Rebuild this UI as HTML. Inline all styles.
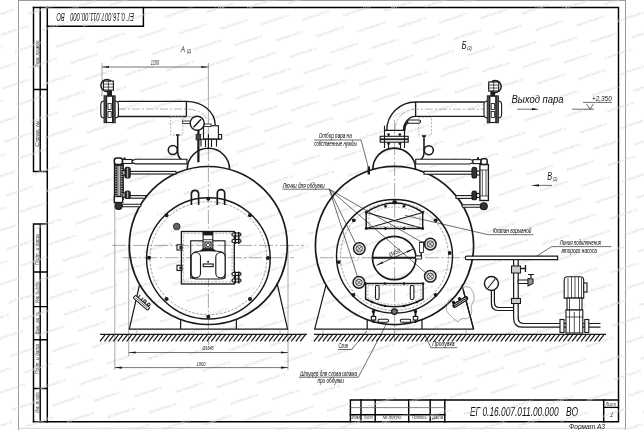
<!DOCTYPE html>
<html><head><meta charset="utf-8">
<style>
html,body{margin:0;padding:0;background:#fff;width:644px;height:430px;overflow:hidden}
svg{display:block;filter:blur(0.35px)}
text{font-family:"Liberation Sans",sans-serif;font-style:italic}
</style></head><body>
<svg width="644" height="430" viewBox="0 0 644 430" fill="#111">
<rect width="644" height="430" fill="#fff"/>

<!-- ===== FRAME ===== -->
<g fill="none" stroke="#9a9a9a" stroke-width="1">
<path d="M18.5,0V430M625.5,0V430M18.5,0.5H625.5"/><path d="M18.5,428.3H625.5" stroke="#c8c8c8" stroke-width="0.8"/>
</g>
<g fill="none" stroke="#000" stroke-width="1.45" stroke-linecap="square">
<path d="M33.5,7.5H618.5V421.7H33.5"/>
<path d="M47.3,7.5V421.7"/>
<path d="M33.5,7.5V171.5H47.3M40.2,7.5V171.5M33.5,89.5H47.3"/>
<path d="M33.5,224H47.3M33.5,224V421.7M40.2,224V421.7M33.5,272H47.3M33.5,306.6H47.3M33.5,339.8H47.3M33.5,388.5H47.3"/>
<path d="M47.3,26.3H143.4V7.5"/>
<!-- title block -->
<path d="M350.4,421.7V400H618.5"/>
<path d="M361,400V421.7M375.2,400V421.7M408.7,400V421.7M430.2,400V421.7M444.8,400V421.7M603.7,400V421.7"/>
<path d="M350.4,414.8H444.8"/>
</g>
<g fill="none" stroke="#666" stroke-width="0.8">
<path d="M350.4,407.6H444.8"/></g><g fill="none" stroke="#000" stroke-width="1.3"><path d="M603.7,407.4H618.5"/>
</g>
<!-- strip texts -->
<g font-size="4.6" fill="#333">
<text transform="translate(39.3,67.4) rotate(-90)" textLength="27.9" lengthAdjust="spacingAndGlyphs">Перв. примен.</text>
<text transform="translate(39.3,146.7) rotate(-90)" textLength="26" lengthAdjust="spacingAndGlyphs">Справ. №</text>
<text transform="translate(39.3,265) rotate(-90)" textLength="30.7" lengthAdjust="spacingAndGlyphs">Подп. и дата</text>
<text transform="translate(39.3,302.8) rotate(-90)" textLength="21.8" lengthAdjust="spacingAndGlyphs">Инв. № дубл.</text>
<text transform="translate(39.3,334) rotate(-90)" textLength="22" lengthAdjust="spacingAndGlyphs">Взам. инв. №</text>
<text transform="translate(39.3,374) rotate(-90)" textLength="30" lengthAdjust="spacingAndGlyphs">Подп. и дата</text>
<text transform="translate(39.3,412.5) rotate(-90)" textLength="21" lengthAdjust="spacingAndGlyphs">Инв. № подл.</text>
</g>
<text transform="translate(134,13) rotate(180) scale(0.593,1)" font-size="10.2">ЕГ 0.16.007.011.00.000</text><text transform="translate(64.7,13) rotate(180) scale(0.57,1)" font-size="10.2">ВО</text>
<g font-size="5" fill="#222">
<text x="351.5" y="419" textLength="8.2" lengthAdjust="spacingAndGlyphs">Изм</text>
<text x="363.8" y="419" textLength="8.9" lengthAdjust="spacingAndGlyphs">Лист</text>
<text x="382.5" y="419" textLength="19.5" lengthAdjust="spacingAndGlyphs">№ докум.</text>
<text x="411.9" y="419" textLength="14.7" lengthAdjust="spacingAndGlyphs">Подпись</text>
<text x="432.3" y="419" textLength="10.6" lengthAdjust="spacingAndGlyphs">Дата</text>
<text x="605.5" y="405.8" font-size="5" textLength="10.5" lengthAdjust="spacingAndGlyphs">Лист</text>
<text transform="translate(609.5,417.2) skewX(-12)" font-size="6.5" font-style="normal">1</text>
</g>
<text transform="translate(470,415.8) scale(0.62,1)" font-size="13.5">ЕГ 0.16.007.011.00.000</text><text transform="translate(566,415.8) scale(0.63,1)" font-size="13.5">ВО</text>
<text x="569" y="429" font-size="7.5" textLength="36" lengthAdjust="spacingAndGlyphs">Формат  А3</text>

<!-- DRAWING -->
<!--DRAWSTART-->
<g font-size="4" fill="#d6d6d6" font-style="normal"><text transform="translate(-29.0,415.5) rotate(-18.6)" textLength="29" lengthAdjust="spacingAndGlyphs">bashkirkotel.ru</text><text transform="translate(-14.8,431.9) rotate(-18.6)" textLength="29" lengthAdjust="spacingAndGlyphs">bashkirkotel.ru</text><text transform="translate(-16.3,378.3) rotate(-18.6)" textLength="29" lengthAdjust="spacingAndGlyphs">bashkirkotel.ru</text><text transform="translate(-2.2,394.6) rotate(-18.6)" textLength="29" lengthAdjust="spacingAndGlyphs">bashkirkotel.ru</text><text transform="translate(12.0,411.0) rotate(-18.6)" textLength="29" lengthAdjust="spacingAndGlyphs">bashkirkotel.ru</text><text transform="translate(26.2,427.4) rotate(-18.6)" textLength="29" lengthAdjust="spacingAndGlyphs">bashkirkotel.ru</text><text transform="translate(-17.8,324.8) rotate(-18.6)" textLength="29" lengthAdjust="spacingAndGlyphs">bashkirkotel.ru</text><text transform="translate(-3.7,341.1) rotate(-18.6)" textLength="29" lengthAdjust="spacingAndGlyphs">bashkirkotel.ru</text><text transform="translate(10.5,357.4) rotate(-18.6)" textLength="29" lengthAdjust="spacingAndGlyphs">bashkirkotel.ru</text><text transform="translate(24.7,373.8) rotate(-18.6)" textLength="29" lengthAdjust="spacingAndGlyphs">bashkirkotel.ru</text><text transform="translate(38.8,390.1) rotate(-18.6)" textLength="29" lengthAdjust="spacingAndGlyphs">bashkirkotel.ru</text><text transform="translate(53.0,406.5) rotate(-18.6)" textLength="29" lengthAdjust="spacingAndGlyphs">bashkirkotel.ru</text><text transform="translate(67.2,422.9) rotate(-18.6)" textLength="29" lengthAdjust="spacingAndGlyphs">bashkirkotel.ru</text><text transform="translate(81.3,439.2) rotate(-18.6)" textLength="29" lengthAdjust="spacingAndGlyphs">bashkirkotel.ru</text><text transform="translate(-19.4,271.2) rotate(-18.6)" textLength="29" lengthAdjust="spacingAndGlyphs">bashkirkotel.ru</text><text transform="translate(-5.2,287.5) rotate(-18.6)" textLength="29" lengthAdjust="spacingAndGlyphs">bashkirkotel.ru</text><text transform="translate(9.0,303.9) rotate(-18.6)" textLength="29" lengthAdjust="spacingAndGlyphs">bashkirkotel.ru</text><text transform="translate(23.2,320.2) rotate(-18.6)" textLength="29" lengthAdjust="spacingAndGlyphs">bashkirkotel.ru</text><text transform="translate(37.3,336.6) rotate(-18.6)" textLength="29" lengthAdjust="spacingAndGlyphs">bashkirkotel.ru</text><text transform="translate(51.5,352.9) rotate(-18.6)" textLength="29" lengthAdjust="spacingAndGlyphs">bashkirkotel.ru</text><text transform="translate(65.7,369.3) rotate(-18.6)" textLength="29" lengthAdjust="spacingAndGlyphs">bashkirkotel.ru</text><text transform="translate(79.8,385.6) rotate(-18.6)" textLength="29" lengthAdjust="spacingAndGlyphs">bashkirkotel.ru</text><text transform="translate(94.0,402.0) rotate(-18.6)" textLength="29" lengthAdjust="spacingAndGlyphs">bashkirkotel.ru</text><text transform="translate(108.2,418.4) rotate(-18.6)" textLength="29" lengthAdjust="spacingAndGlyphs">bashkirkotel.ru</text><text transform="translate(122.3,434.7) rotate(-18.6)" textLength="29" lengthAdjust="spacingAndGlyphs">bashkirkotel.ru</text><text transform="translate(-20.9,217.6) rotate(-18.6)" textLength="29" lengthAdjust="spacingAndGlyphs">bashkirkotel.ru</text><text transform="translate(-6.7,234.0) rotate(-18.6)" textLength="29" lengthAdjust="spacingAndGlyphs">bashkirkotel.ru</text><text transform="translate(7.5,250.3) rotate(-18.6)" textLength="29" lengthAdjust="spacingAndGlyphs">bashkirkotel.ru</text><text transform="translate(21.6,266.7) rotate(-18.6)" textLength="29" lengthAdjust="spacingAndGlyphs">bashkirkotel.ru</text><text transform="translate(35.8,283.0) rotate(-18.6)" textLength="29" lengthAdjust="spacingAndGlyphs">bashkirkotel.ru</text><text transform="translate(50.0,299.4) rotate(-18.6)" textLength="29" lengthAdjust="spacingAndGlyphs">bashkirkotel.ru</text><text transform="translate(64.2,315.8) rotate(-18.6)" textLength="29" lengthAdjust="spacingAndGlyphs">bashkirkotel.ru</text><text transform="translate(78.3,332.1) rotate(-18.6)" textLength="29" lengthAdjust="spacingAndGlyphs">bashkirkotel.ru</text><text transform="translate(92.5,348.4) rotate(-18.6)" textLength="29" lengthAdjust="spacingAndGlyphs">bashkirkotel.ru</text><text transform="translate(106.7,364.8) rotate(-18.6)" textLength="29" lengthAdjust="spacingAndGlyphs">bashkirkotel.ru</text><text transform="translate(120.8,381.1) rotate(-18.6)" textLength="29" lengthAdjust="spacingAndGlyphs">bashkirkotel.ru</text><text transform="translate(135.0,397.5) rotate(-18.6)" textLength="29" lengthAdjust="spacingAndGlyphs">bashkirkotel.ru</text><text transform="translate(149.2,413.9) rotate(-18.6)" textLength="29" lengthAdjust="spacingAndGlyphs">bashkirkotel.ru</text><text transform="translate(163.3,430.2) rotate(-18.6)" textLength="29" lengthAdjust="spacingAndGlyphs">bashkirkotel.ru</text><text transform="translate(-22.4,164.1) rotate(-18.6)" textLength="29" lengthAdjust="spacingAndGlyphs">bashkirkotel.ru</text><text transform="translate(-8.2,180.4) rotate(-18.6)" textLength="29" lengthAdjust="spacingAndGlyphs">bashkirkotel.ru</text><text transform="translate(6.0,196.8) rotate(-18.6)" textLength="29" lengthAdjust="spacingAndGlyphs">bashkirkotel.ru</text><text transform="translate(20.1,213.1) rotate(-18.6)" textLength="29" lengthAdjust="spacingAndGlyphs">bashkirkotel.ru</text><text transform="translate(34.3,229.5) rotate(-18.6)" textLength="29" lengthAdjust="spacingAndGlyphs">bashkirkotel.ru</text><text transform="translate(48.5,245.8) rotate(-18.6)" textLength="29" lengthAdjust="spacingAndGlyphs">bashkirkotel.ru</text><text transform="translate(62.6,262.2) rotate(-18.6)" textLength="29" lengthAdjust="spacingAndGlyphs">bashkirkotel.ru</text><text transform="translate(76.8,278.5) rotate(-18.6)" textLength="29" lengthAdjust="spacingAndGlyphs">bashkirkotel.ru</text><text transform="translate(91.0,294.9) rotate(-18.6)" textLength="29" lengthAdjust="spacingAndGlyphs">bashkirkotel.ru</text><text transform="translate(105.2,311.2) rotate(-18.6)" textLength="29" lengthAdjust="spacingAndGlyphs">bashkirkotel.ru</text><text transform="translate(119.3,327.6) rotate(-18.6)" textLength="29" lengthAdjust="spacingAndGlyphs">bashkirkotel.ru</text><text transform="translate(133.5,343.9) rotate(-18.6)" textLength="29" lengthAdjust="spacingAndGlyphs">bashkirkotel.ru</text><text transform="translate(147.7,360.3) rotate(-18.6)" textLength="29" lengthAdjust="spacingAndGlyphs">bashkirkotel.ru</text><text transform="translate(161.8,376.6) rotate(-18.6)" textLength="29" lengthAdjust="spacingAndGlyphs">bashkirkotel.ru</text><text transform="translate(176.0,393.0) rotate(-18.6)" textLength="29" lengthAdjust="spacingAndGlyphs">bashkirkotel.ru</text><text transform="translate(190.2,409.4) rotate(-18.6)" textLength="29" lengthAdjust="spacingAndGlyphs">bashkirkotel.ru</text><text transform="translate(204.3,425.7) rotate(-18.6)" textLength="29" lengthAdjust="spacingAndGlyphs">bashkirkotel.ru</text><text transform="translate(-23.9,110.5) rotate(-18.6)" textLength="29" lengthAdjust="spacingAndGlyphs">bashkirkotel.ru</text><text transform="translate(-9.7,126.9) rotate(-18.6)" textLength="29" lengthAdjust="spacingAndGlyphs">bashkirkotel.ru</text><text transform="translate(4.4,143.2) rotate(-18.6)" textLength="29" lengthAdjust="spacingAndGlyphs">bashkirkotel.ru</text><text transform="translate(18.6,159.6) rotate(-18.6)" textLength="29" lengthAdjust="spacingAndGlyphs">bashkirkotel.ru</text><text transform="translate(32.8,175.9) rotate(-18.6)" textLength="29" lengthAdjust="spacingAndGlyphs">bashkirkotel.ru</text><text transform="translate(47.0,192.3) rotate(-18.6)" textLength="29" lengthAdjust="spacingAndGlyphs">bashkirkotel.ru</text><text transform="translate(61.1,208.6) rotate(-18.6)" textLength="29" lengthAdjust="spacingAndGlyphs">bashkirkotel.ru</text><text transform="translate(75.3,225.0) rotate(-18.6)" textLength="29" lengthAdjust="spacingAndGlyphs">bashkirkotel.ru</text><text transform="translate(89.5,241.3) rotate(-18.6)" textLength="29" lengthAdjust="spacingAndGlyphs">bashkirkotel.ru</text><text transform="translate(103.6,257.7) rotate(-18.6)" textLength="29" lengthAdjust="spacingAndGlyphs">bashkirkotel.ru</text><text transform="translate(117.8,274.0) rotate(-18.6)" textLength="29" lengthAdjust="spacingAndGlyphs">bashkirkotel.ru</text><text transform="translate(132.0,290.4) rotate(-18.6)" textLength="29" lengthAdjust="spacingAndGlyphs">bashkirkotel.ru</text><text transform="translate(146.2,306.8) rotate(-18.6)" textLength="29" lengthAdjust="spacingAndGlyphs">bashkirkotel.ru</text><text transform="translate(160.3,323.1) rotate(-18.6)" textLength="29" lengthAdjust="spacingAndGlyphs">bashkirkotel.ru</text><text transform="translate(174.5,339.4) rotate(-18.6)" textLength="29" lengthAdjust="spacingAndGlyphs">bashkirkotel.ru</text><text transform="translate(188.7,355.8) rotate(-18.6)" textLength="29" lengthAdjust="spacingAndGlyphs">bashkirkotel.ru</text><text transform="translate(202.8,372.1) rotate(-18.6)" textLength="29" lengthAdjust="spacingAndGlyphs">bashkirkotel.ru</text><text transform="translate(217.0,388.5) rotate(-18.6)" textLength="29" lengthAdjust="spacingAndGlyphs">bashkirkotel.ru</text><text transform="translate(231.2,404.9) rotate(-18.6)" textLength="29" lengthAdjust="spacingAndGlyphs">bashkirkotel.ru</text><text transform="translate(245.3,421.2) rotate(-18.6)" textLength="29" lengthAdjust="spacingAndGlyphs">bashkirkotel.ru</text><text transform="translate(259.5,437.6) rotate(-18.6)" textLength="29" lengthAdjust="spacingAndGlyphs">bashkirkotel.ru</text><text transform="translate(-25.4,57.0) rotate(-18.6)" textLength="29" lengthAdjust="spacingAndGlyphs">bashkirkotel.ru</text><text transform="translate(-11.2,73.3) rotate(-18.6)" textLength="29" lengthAdjust="spacingAndGlyphs">bashkirkotel.ru</text><text transform="translate(2.9,89.7) rotate(-18.6)" textLength="29" lengthAdjust="spacingAndGlyphs">bashkirkotel.ru</text><text transform="translate(17.1,106.0) rotate(-18.6)" textLength="29" lengthAdjust="spacingAndGlyphs">bashkirkotel.ru</text><text transform="translate(31.3,122.4) rotate(-18.6)" textLength="29" lengthAdjust="spacingAndGlyphs">bashkirkotel.ru</text><text transform="translate(45.4,138.7) rotate(-18.6)" textLength="29" lengthAdjust="spacingAndGlyphs">bashkirkotel.ru</text><text transform="translate(59.6,155.1) rotate(-18.6)" textLength="29" lengthAdjust="spacingAndGlyphs">bashkirkotel.ru</text><text transform="translate(73.8,171.4) rotate(-18.6)" textLength="29" lengthAdjust="spacingAndGlyphs">bashkirkotel.ru</text><text transform="translate(88.0,187.8) rotate(-18.6)" textLength="29" lengthAdjust="spacingAndGlyphs">bashkirkotel.ru</text><text transform="translate(102.1,204.1) rotate(-18.6)" textLength="29" lengthAdjust="spacingAndGlyphs">bashkirkotel.ru</text><text transform="translate(116.3,220.5) rotate(-18.6)" textLength="29" lengthAdjust="spacingAndGlyphs">bashkirkotel.ru</text><text transform="translate(130.5,236.8) rotate(-18.6)" textLength="29" lengthAdjust="spacingAndGlyphs">bashkirkotel.ru</text><text transform="translate(144.6,253.2) rotate(-18.6)" textLength="29" lengthAdjust="spacingAndGlyphs">bashkirkotel.ru</text><text transform="translate(158.8,269.5) rotate(-18.6)" textLength="29" lengthAdjust="spacingAndGlyphs">bashkirkotel.ru</text><text transform="translate(173.0,285.9) rotate(-18.6)" textLength="29" lengthAdjust="spacingAndGlyphs">bashkirkotel.ru</text><text transform="translate(187.2,302.2) rotate(-18.6)" textLength="29" lengthAdjust="spacingAndGlyphs">bashkirkotel.ru</text><text transform="translate(201.3,318.6) rotate(-18.6)" textLength="29" lengthAdjust="spacingAndGlyphs">bashkirkotel.ru</text><text transform="translate(215.5,334.9) rotate(-18.6)" textLength="29" lengthAdjust="spacingAndGlyphs">bashkirkotel.ru</text><text transform="translate(229.7,351.3) rotate(-18.6)" textLength="29" lengthAdjust="spacingAndGlyphs">bashkirkotel.ru</text><text transform="translate(243.8,367.6) rotate(-18.6)" textLength="29" lengthAdjust="spacingAndGlyphs">bashkirkotel.ru</text><text transform="translate(258.0,384.0) rotate(-18.6)" textLength="29" lengthAdjust="spacingAndGlyphs">bashkirkotel.ru</text><text transform="translate(272.2,400.4) rotate(-18.6)" textLength="29" lengthAdjust="spacingAndGlyphs">bashkirkotel.ru</text><text transform="translate(286.3,416.7) rotate(-18.6)" textLength="29" lengthAdjust="spacingAndGlyphs">bashkirkotel.ru</text><text transform="translate(300.5,433.1) rotate(-18.6)" textLength="29" lengthAdjust="spacingAndGlyphs">bashkirkotel.ru</text><text transform="translate(-26.9,3.4) rotate(-18.6)" textLength="29" lengthAdjust="spacingAndGlyphs">bashkirkotel.ru</text><text transform="translate(-12.7,19.8) rotate(-18.6)" textLength="29" lengthAdjust="spacingAndGlyphs">bashkirkotel.ru</text><text transform="translate(1.4,36.1) rotate(-18.6)" textLength="29" lengthAdjust="spacingAndGlyphs">bashkirkotel.ru</text><text transform="translate(15.6,52.5) rotate(-18.6)" textLength="29" lengthAdjust="spacingAndGlyphs">bashkirkotel.ru</text><text transform="translate(29.8,68.8) rotate(-18.6)" textLength="29" lengthAdjust="spacingAndGlyphs">bashkirkotel.ru</text><text transform="translate(43.9,85.2) rotate(-18.6)" textLength="29" lengthAdjust="spacingAndGlyphs">bashkirkotel.ru</text><text transform="translate(58.1,101.5) rotate(-18.6)" textLength="29" lengthAdjust="spacingAndGlyphs">bashkirkotel.ru</text><text transform="translate(72.3,117.9) rotate(-18.6)" textLength="29" lengthAdjust="spacingAndGlyphs">bashkirkotel.ru</text><text transform="translate(86.4,134.2) rotate(-18.6)" textLength="29" lengthAdjust="spacingAndGlyphs">bashkirkotel.ru</text><text transform="translate(100.6,150.6) rotate(-18.6)" textLength="29" lengthAdjust="spacingAndGlyphs">bashkirkotel.ru</text><text transform="translate(114.8,166.9) rotate(-18.6)" textLength="29" lengthAdjust="spacingAndGlyphs">bashkirkotel.ru</text><text transform="translate(129.0,183.3) rotate(-18.6)" textLength="29" lengthAdjust="spacingAndGlyphs">bashkirkotel.ru</text><text transform="translate(143.1,199.6) rotate(-18.6)" textLength="29" lengthAdjust="spacingAndGlyphs">bashkirkotel.ru</text><text transform="translate(157.3,216.0) rotate(-18.6)" textLength="29" lengthAdjust="spacingAndGlyphs">bashkirkotel.ru</text><text transform="translate(171.5,232.3) rotate(-18.6)" textLength="29" lengthAdjust="spacingAndGlyphs">bashkirkotel.ru</text><text transform="translate(185.6,248.7) rotate(-18.6)" textLength="29" lengthAdjust="spacingAndGlyphs">bashkirkotel.ru</text><text transform="translate(199.8,265.0) rotate(-18.6)" textLength="29" lengthAdjust="spacingAndGlyphs">bashkirkotel.ru</text><text transform="translate(214.0,281.4) rotate(-18.6)" textLength="29" lengthAdjust="spacingAndGlyphs">bashkirkotel.ru</text><text transform="translate(228.2,297.8) rotate(-18.6)" textLength="29" lengthAdjust="spacingAndGlyphs">bashkirkotel.ru</text><text transform="translate(242.3,314.1) rotate(-18.6)" textLength="29" lengthAdjust="spacingAndGlyphs">bashkirkotel.ru</text><text transform="translate(256.5,330.4) rotate(-18.6)" textLength="29" lengthAdjust="spacingAndGlyphs">bashkirkotel.ru</text><text transform="translate(270.7,346.8) rotate(-18.6)" textLength="29" lengthAdjust="spacingAndGlyphs">bashkirkotel.ru</text><text transform="translate(284.8,363.1) rotate(-18.6)" textLength="29" lengthAdjust="spacingAndGlyphs">bashkirkotel.ru</text><text transform="translate(299.0,379.5) rotate(-18.6)" textLength="29" lengthAdjust="spacingAndGlyphs">bashkirkotel.ru</text><text transform="translate(313.2,395.9) rotate(-18.6)" textLength="29" lengthAdjust="spacingAndGlyphs">bashkirkotel.ru</text><text transform="translate(327.3,412.2) rotate(-18.6)" textLength="29" lengthAdjust="spacingAndGlyphs">bashkirkotel.ru</text><text transform="translate(341.5,428.6) rotate(-18.6)" textLength="29" lengthAdjust="spacingAndGlyphs">bashkirkotel.ru</text><text transform="translate(14.1,-1.1) rotate(-18.6)" textLength="29" lengthAdjust="spacingAndGlyphs">bashkirkotel.ru</text><text transform="translate(28.3,15.3) rotate(-18.6)" textLength="29" lengthAdjust="spacingAndGlyphs">bashkirkotel.ru</text><text transform="translate(42.4,31.6) rotate(-18.6)" textLength="29" lengthAdjust="spacingAndGlyphs">bashkirkotel.ru</text><text transform="translate(56.6,48.0) rotate(-18.6)" textLength="29" lengthAdjust="spacingAndGlyphs">bashkirkotel.ru</text><text transform="translate(70.8,64.3) rotate(-18.6)" textLength="29" lengthAdjust="spacingAndGlyphs">bashkirkotel.ru</text><text transform="translate(84.9,80.7) rotate(-18.6)" textLength="29" lengthAdjust="spacingAndGlyphs">bashkirkotel.ru</text><text transform="translate(99.1,97.0) rotate(-18.6)" textLength="29" lengthAdjust="spacingAndGlyphs">bashkirkotel.ru</text><text transform="translate(113.3,113.4) rotate(-18.6)" textLength="29" lengthAdjust="spacingAndGlyphs">bashkirkotel.ru</text><text transform="translate(127.4,129.7) rotate(-18.6)" textLength="29" lengthAdjust="spacingAndGlyphs">bashkirkotel.ru</text><text transform="translate(141.6,146.1) rotate(-18.6)" textLength="29" lengthAdjust="spacingAndGlyphs">bashkirkotel.ru</text><text transform="translate(155.8,162.4) rotate(-18.6)" textLength="29" lengthAdjust="spacingAndGlyphs">bashkirkotel.ru</text><text transform="translate(170.0,178.8) rotate(-18.6)" textLength="29" lengthAdjust="spacingAndGlyphs">bashkirkotel.ru</text><text transform="translate(184.1,195.1) rotate(-18.6)" textLength="29" lengthAdjust="spacingAndGlyphs">bashkirkotel.ru</text><text transform="translate(198.3,211.5) rotate(-18.6)" textLength="29" lengthAdjust="spacingAndGlyphs">bashkirkotel.ru</text><text transform="translate(212.5,227.8) rotate(-18.6)" textLength="29" lengthAdjust="spacingAndGlyphs">bashkirkotel.ru</text><text transform="translate(226.6,244.2) rotate(-18.6)" textLength="29" lengthAdjust="spacingAndGlyphs">bashkirkotel.ru</text><text transform="translate(240.8,260.5) rotate(-18.6)" textLength="29" lengthAdjust="spacingAndGlyphs">bashkirkotel.ru</text><text transform="translate(255.0,276.9) rotate(-18.6)" textLength="29" lengthAdjust="spacingAndGlyphs">bashkirkotel.ru</text><text transform="translate(269.1,293.2) rotate(-18.6)" textLength="29" lengthAdjust="spacingAndGlyphs">bashkirkotel.ru</text><text transform="translate(283.3,309.6) rotate(-18.6)" textLength="29" lengthAdjust="spacingAndGlyphs">bashkirkotel.ru</text><text transform="translate(297.5,325.9) rotate(-18.6)" textLength="29" lengthAdjust="spacingAndGlyphs">bashkirkotel.ru</text><text transform="translate(311.7,342.3) rotate(-18.6)" textLength="29" lengthAdjust="spacingAndGlyphs">bashkirkotel.ru</text><text transform="translate(325.8,358.6) rotate(-18.6)" textLength="29" lengthAdjust="spacingAndGlyphs">bashkirkotel.ru</text><text transform="translate(340.0,375.0) rotate(-18.6)" textLength="29" lengthAdjust="spacingAndGlyphs">bashkirkotel.ru</text><text transform="translate(354.2,391.4) rotate(-18.6)" textLength="29" lengthAdjust="spacingAndGlyphs">bashkirkotel.ru</text><text transform="translate(368.3,407.7) rotate(-18.6)" textLength="29" lengthAdjust="spacingAndGlyphs">bashkirkotel.ru</text><text transform="translate(382.5,424.1) rotate(-18.6)" textLength="29" lengthAdjust="spacingAndGlyphs">bashkirkotel.ru</text><text transform="translate(69.3,10.8) rotate(-18.6)" textLength="29" lengthAdjust="spacingAndGlyphs">bashkirkotel.ru</text><text transform="translate(83.4,27.1) rotate(-18.6)" textLength="29" lengthAdjust="spacingAndGlyphs">bashkirkotel.ru</text><text transform="translate(97.6,43.5) rotate(-18.6)" textLength="29" lengthAdjust="spacingAndGlyphs">bashkirkotel.ru</text><text transform="translate(111.8,59.8) rotate(-18.6)" textLength="29" lengthAdjust="spacingAndGlyphs">bashkirkotel.ru</text><text transform="translate(125.9,76.2) rotate(-18.6)" textLength="29" lengthAdjust="spacingAndGlyphs">bashkirkotel.ru</text><text transform="translate(140.1,92.5) rotate(-18.6)" textLength="29" lengthAdjust="spacingAndGlyphs">bashkirkotel.ru</text><text transform="translate(154.3,108.9) rotate(-18.6)" textLength="29" lengthAdjust="spacingAndGlyphs">bashkirkotel.ru</text><text transform="translate(168.4,125.2) rotate(-18.6)" textLength="29" lengthAdjust="spacingAndGlyphs">bashkirkotel.ru</text><text transform="translate(182.6,141.6) rotate(-18.6)" textLength="29" lengthAdjust="spacingAndGlyphs">bashkirkotel.ru</text><text transform="translate(196.8,157.9) rotate(-18.6)" textLength="29" lengthAdjust="spacingAndGlyphs">bashkirkotel.ru</text><text transform="translate(211.0,174.3) rotate(-18.6)" textLength="29" lengthAdjust="spacingAndGlyphs">bashkirkotel.ru</text><text transform="translate(225.1,190.6) rotate(-18.6)" textLength="29" lengthAdjust="spacingAndGlyphs">bashkirkotel.ru</text><text transform="translate(239.3,207.0) rotate(-18.6)" textLength="29" lengthAdjust="spacingAndGlyphs">bashkirkotel.ru</text><text transform="translate(253.5,223.3) rotate(-18.6)" textLength="29" lengthAdjust="spacingAndGlyphs">bashkirkotel.ru</text><text transform="translate(267.6,239.7) rotate(-18.6)" textLength="29" lengthAdjust="spacingAndGlyphs">bashkirkotel.ru</text><text transform="translate(281.8,256.0) rotate(-18.6)" textLength="29" lengthAdjust="spacingAndGlyphs">bashkirkotel.ru</text><text transform="translate(296.0,272.4) rotate(-18.6)" textLength="29" lengthAdjust="spacingAndGlyphs">bashkirkotel.ru</text><text transform="translate(310.1,288.8) rotate(-18.6)" textLength="29" lengthAdjust="spacingAndGlyphs">bashkirkotel.ru</text><text transform="translate(324.3,305.1) rotate(-18.6)" textLength="29" lengthAdjust="spacingAndGlyphs">bashkirkotel.ru</text><text transform="translate(338.5,321.4) rotate(-18.6)" textLength="29" lengthAdjust="spacingAndGlyphs">bashkirkotel.ru</text><text transform="translate(352.7,337.8) rotate(-18.6)" textLength="29" lengthAdjust="spacingAndGlyphs">bashkirkotel.ru</text><text transform="translate(366.8,354.1) rotate(-18.6)" textLength="29" lengthAdjust="spacingAndGlyphs">bashkirkotel.ru</text><text transform="translate(381.0,370.5) rotate(-18.6)" textLength="29" lengthAdjust="spacingAndGlyphs">bashkirkotel.ru</text><text transform="translate(395.2,386.9) rotate(-18.6)" textLength="29" lengthAdjust="spacingAndGlyphs">bashkirkotel.ru</text><text transform="translate(409.3,403.2) rotate(-18.6)" textLength="29" lengthAdjust="spacingAndGlyphs">bashkirkotel.ru</text><text transform="translate(423.5,419.6) rotate(-18.6)" textLength="29" lengthAdjust="spacingAndGlyphs">bashkirkotel.ru</text><text transform="translate(437.7,435.9) rotate(-18.6)" textLength="29" lengthAdjust="spacingAndGlyphs">bashkirkotel.ru</text><text transform="translate(110.3,6.3) rotate(-18.6)" textLength="29" lengthAdjust="spacingAndGlyphs">bashkirkotel.ru</text><text transform="translate(124.4,22.6) rotate(-18.6)" textLength="29" lengthAdjust="spacingAndGlyphs">bashkirkotel.ru</text><text transform="translate(138.6,39.0) rotate(-18.6)" textLength="29" lengthAdjust="spacingAndGlyphs">bashkirkotel.ru</text><text transform="translate(152.8,55.3) rotate(-18.6)" textLength="29" lengthAdjust="spacingAndGlyphs">bashkirkotel.ru</text><text transform="translate(166.9,71.7) rotate(-18.6)" textLength="29" lengthAdjust="spacingAndGlyphs">bashkirkotel.ru</text><text transform="translate(181.1,88.0) rotate(-18.6)" textLength="29" lengthAdjust="spacingAndGlyphs">bashkirkotel.ru</text><text transform="translate(195.3,104.4) rotate(-18.6)" textLength="29" lengthAdjust="spacingAndGlyphs">bashkirkotel.ru</text><text transform="translate(209.4,120.7) rotate(-18.6)" textLength="29" lengthAdjust="spacingAndGlyphs">bashkirkotel.ru</text><text transform="translate(223.6,137.1) rotate(-18.6)" textLength="29" lengthAdjust="spacingAndGlyphs">bashkirkotel.ru</text><text transform="translate(237.8,153.4) rotate(-18.6)" textLength="29" lengthAdjust="spacingAndGlyphs">bashkirkotel.ru</text><text transform="translate(252.0,169.8) rotate(-18.6)" textLength="29" lengthAdjust="spacingAndGlyphs">bashkirkotel.ru</text><text transform="translate(266.1,186.1) rotate(-18.6)" textLength="29" lengthAdjust="spacingAndGlyphs">bashkirkotel.ru</text><text transform="translate(280.3,202.5) rotate(-18.6)" textLength="29" lengthAdjust="spacingAndGlyphs">bashkirkotel.ru</text><text transform="translate(294.5,218.8) rotate(-18.6)" textLength="29" lengthAdjust="spacingAndGlyphs">bashkirkotel.ru</text><text transform="translate(308.6,235.2) rotate(-18.6)" textLength="29" lengthAdjust="spacingAndGlyphs">bashkirkotel.ru</text><text transform="translate(322.8,251.5) rotate(-18.6)" textLength="29" lengthAdjust="spacingAndGlyphs">bashkirkotel.ru</text><text transform="translate(337.0,267.9) rotate(-18.6)" textLength="29" lengthAdjust="spacingAndGlyphs">bashkirkotel.ru</text><text transform="translate(351.1,284.2) rotate(-18.6)" textLength="29" lengthAdjust="spacingAndGlyphs">bashkirkotel.ru</text><text transform="translate(365.3,300.6) rotate(-18.6)" textLength="29" lengthAdjust="spacingAndGlyphs">bashkirkotel.ru</text><text transform="translate(379.5,316.9) rotate(-18.6)" textLength="29" lengthAdjust="spacingAndGlyphs">bashkirkotel.ru</text><text transform="translate(393.7,333.3) rotate(-18.6)" textLength="29" lengthAdjust="spacingAndGlyphs">bashkirkotel.ru</text><text transform="translate(407.8,349.6) rotate(-18.6)" textLength="29" lengthAdjust="spacingAndGlyphs">bashkirkotel.ru</text><text transform="translate(422.0,366.0) rotate(-18.6)" textLength="29" lengthAdjust="spacingAndGlyphs">bashkirkotel.ru</text><text transform="translate(436.2,382.4) rotate(-18.6)" textLength="29" lengthAdjust="spacingAndGlyphs">bashkirkotel.ru</text><text transform="translate(450.3,398.7) rotate(-18.6)" textLength="29" lengthAdjust="spacingAndGlyphs">bashkirkotel.ru</text><text transform="translate(464.5,415.1) rotate(-18.6)" textLength="29" lengthAdjust="spacingAndGlyphs">bashkirkotel.ru</text><text transform="translate(478.7,431.4) rotate(-18.6)" textLength="29" lengthAdjust="spacingAndGlyphs">bashkirkotel.ru</text><text transform="translate(151.3,1.8) rotate(-18.6)" textLength="29" lengthAdjust="spacingAndGlyphs">bashkirkotel.ru</text><text transform="translate(165.4,18.1) rotate(-18.6)" textLength="29" lengthAdjust="spacingAndGlyphs">bashkirkotel.ru</text><text transform="translate(179.6,34.5) rotate(-18.6)" textLength="29" lengthAdjust="spacingAndGlyphs">bashkirkotel.ru</text><text transform="translate(193.8,50.8) rotate(-18.6)" textLength="29" lengthAdjust="spacingAndGlyphs">bashkirkotel.ru</text><text transform="translate(207.9,67.2) rotate(-18.6)" textLength="29" lengthAdjust="spacingAndGlyphs">bashkirkotel.ru</text><text transform="translate(222.1,83.5) rotate(-18.6)" textLength="29" lengthAdjust="spacingAndGlyphs">bashkirkotel.ru</text><text transform="translate(236.3,99.9) rotate(-18.6)" textLength="29" lengthAdjust="spacingAndGlyphs">bashkirkotel.ru</text><text transform="translate(250.4,116.2) rotate(-18.6)" textLength="29" lengthAdjust="spacingAndGlyphs">bashkirkotel.ru</text><text transform="translate(264.6,132.6) rotate(-18.6)" textLength="29" lengthAdjust="spacingAndGlyphs">bashkirkotel.ru</text><text transform="translate(278.8,148.9) rotate(-18.6)" textLength="29" lengthAdjust="spacingAndGlyphs">bashkirkotel.ru</text><text transform="translate(293.0,165.3) rotate(-18.6)" textLength="29" lengthAdjust="spacingAndGlyphs">bashkirkotel.ru</text><text transform="translate(307.1,181.6) rotate(-18.6)" textLength="29" lengthAdjust="spacingAndGlyphs">bashkirkotel.ru</text><text transform="translate(321.3,198.0) rotate(-18.6)" textLength="29" lengthAdjust="spacingAndGlyphs">bashkirkotel.ru</text><text transform="translate(335.5,214.3) rotate(-18.6)" textLength="29" lengthAdjust="spacingAndGlyphs">bashkirkotel.ru</text><text transform="translate(349.6,230.7) rotate(-18.6)" textLength="29" lengthAdjust="spacingAndGlyphs">bashkirkotel.ru</text><text transform="translate(363.8,247.0) rotate(-18.6)" textLength="29" lengthAdjust="spacingAndGlyphs">bashkirkotel.ru</text><text transform="translate(378.0,263.4) rotate(-18.6)" textLength="29" lengthAdjust="spacingAndGlyphs">bashkirkotel.ru</text><text transform="translate(392.1,279.8) rotate(-18.6)" textLength="29" lengthAdjust="spacingAndGlyphs">bashkirkotel.ru</text><text transform="translate(406.3,296.1) rotate(-18.6)" textLength="29" lengthAdjust="spacingAndGlyphs">bashkirkotel.ru</text><text transform="translate(420.5,312.4) rotate(-18.6)" textLength="29" lengthAdjust="spacingAndGlyphs">bashkirkotel.ru</text><text transform="translate(434.7,328.8) rotate(-18.6)" textLength="29" lengthAdjust="spacingAndGlyphs">bashkirkotel.ru</text><text transform="translate(448.8,345.1) rotate(-18.6)" textLength="29" lengthAdjust="spacingAndGlyphs">bashkirkotel.ru</text><text transform="translate(463.0,361.5) rotate(-18.6)" textLength="29" lengthAdjust="spacingAndGlyphs">bashkirkotel.ru</text><text transform="translate(477.2,377.9) rotate(-18.6)" textLength="29" lengthAdjust="spacingAndGlyphs">bashkirkotel.ru</text><text transform="translate(491.3,394.2) rotate(-18.6)" textLength="29" lengthAdjust="spacingAndGlyphs">bashkirkotel.ru</text><text transform="translate(505.5,410.6) rotate(-18.6)" textLength="29" lengthAdjust="spacingAndGlyphs">bashkirkotel.ru</text><text transform="translate(519.7,426.9) rotate(-18.6)" textLength="29" lengthAdjust="spacingAndGlyphs">bashkirkotel.ru</text><text transform="translate(192.3,-2.7) rotate(-18.6)" textLength="29" lengthAdjust="spacingAndGlyphs">bashkirkotel.ru</text><text transform="translate(206.4,13.6) rotate(-18.6)" textLength="29" lengthAdjust="spacingAndGlyphs">bashkirkotel.ru</text><text transform="translate(220.6,30.0) rotate(-18.6)" textLength="29" lengthAdjust="spacingAndGlyphs">bashkirkotel.ru</text><text transform="translate(234.8,46.3) rotate(-18.6)" textLength="29" lengthAdjust="spacingAndGlyphs">bashkirkotel.ru</text><text transform="translate(248.9,62.7) rotate(-18.6)" textLength="29" lengthAdjust="spacingAndGlyphs">bashkirkotel.ru</text><text transform="translate(263.1,79.0) rotate(-18.6)" textLength="29" lengthAdjust="spacingAndGlyphs">bashkirkotel.ru</text><text transform="translate(277.3,95.4) rotate(-18.6)" textLength="29" lengthAdjust="spacingAndGlyphs">bashkirkotel.ru</text><text transform="translate(291.4,111.7) rotate(-18.6)" textLength="29" lengthAdjust="spacingAndGlyphs">bashkirkotel.ru</text><text transform="translate(305.6,128.1) rotate(-18.6)" textLength="29" lengthAdjust="spacingAndGlyphs">bashkirkotel.ru</text><text transform="translate(319.8,144.4) rotate(-18.6)" textLength="29" lengthAdjust="spacingAndGlyphs">bashkirkotel.ru</text><text transform="translate(334.0,160.8) rotate(-18.6)" textLength="29" lengthAdjust="spacingAndGlyphs">bashkirkotel.ru</text><text transform="translate(348.1,177.1) rotate(-18.6)" textLength="29" lengthAdjust="spacingAndGlyphs">bashkirkotel.ru</text><text transform="translate(362.3,193.5) rotate(-18.6)" textLength="29" lengthAdjust="spacingAndGlyphs">bashkirkotel.ru</text><text transform="translate(376.5,209.8) rotate(-18.6)" textLength="29" lengthAdjust="spacingAndGlyphs">bashkirkotel.ru</text><text transform="translate(390.6,226.2) rotate(-18.6)" textLength="29" lengthAdjust="spacingAndGlyphs">bashkirkotel.ru</text><text transform="translate(404.8,242.5) rotate(-18.6)" textLength="29" lengthAdjust="spacingAndGlyphs">bashkirkotel.ru</text><text transform="translate(419.0,258.9) rotate(-18.6)" textLength="29" lengthAdjust="spacingAndGlyphs">bashkirkotel.ru</text><text transform="translate(433.1,275.2) rotate(-18.6)" textLength="29" lengthAdjust="spacingAndGlyphs">bashkirkotel.ru</text><text transform="translate(447.3,291.6) rotate(-18.6)" textLength="29" lengthAdjust="spacingAndGlyphs">bashkirkotel.ru</text><text transform="translate(461.5,307.9) rotate(-18.6)" textLength="29" lengthAdjust="spacingAndGlyphs">bashkirkotel.ru</text><text transform="translate(475.7,324.3) rotate(-18.6)" textLength="29" lengthAdjust="spacingAndGlyphs">bashkirkotel.ru</text><text transform="translate(489.8,340.6) rotate(-18.6)" textLength="29" lengthAdjust="spacingAndGlyphs">bashkirkotel.ru</text><text transform="translate(504.0,357.0) rotate(-18.6)" textLength="29" lengthAdjust="spacingAndGlyphs">bashkirkotel.ru</text><text transform="translate(518.2,373.4) rotate(-18.6)" textLength="29" lengthAdjust="spacingAndGlyphs">bashkirkotel.ru</text><text transform="translate(532.3,389.7) rotate(-18.6)" textLength="29" lengthAdjust="spacingAndGlyphs">bashkirkotel.ru</text><text transform="translate(546.5,406.1) rotate(-18.6)" textLength="29" lengthAdjust="spacingAndGlyphs">bashkirkotel.ru</text><text transform="translate(560.7,422.4) rotate(-18.6)" textLength="29" lengthAdjust="spacingAndGlyphs">bashkirkotel.ru</text><text transform="translate(574.9,438.8) rotate(-18.6)" textLength="29" lengthAdjust="spacingAndGlyphs">bashkirkotel.ru</text><text transform="translate(247.4,9.1) rotate(-18.6)" textLength="29" lengthAdjust="spacingAndGlyphs">bashkirkotel.ru</text><text transform="translate(261.6,25.5) rotate(-18.6)" textLength="29" lengthAdjust="spacingAndGlyphs">bashkirkotel.ru</text><text transform="translate(275.8,41.8) rotate(-18.6)" textLength="29" lengthAdjust="spacingAndGlyphs">bashkirkotel.ru</text><text transform="translate(289.9,58.2) rotate(-18.6)" textLength="29" lengthAdjust="spacingAndGlyphs">bashkirkotel.ru</text><text transform="translate(304.1,74.5) rotate(-18.6)" textLength="29" lengthAdjust="spacingAndGlyphs">bashkirkotel.ru</text><text transform="translate(318.3,90.9) rotate(-18.6)" textLength="29" lengthAdjust="spacingAndGlyphs">bashkirkotel.ru</text><text transform="translate(332.4,107.2) rotate(-18.6)" textLength="29" lengthAdjust="spacingAndGlyphs">bashkirkotel.ru</text><text transform="translate(346.6,123.6) rotate(-18.6)" textLength="29" lengthAdjust="spacingAndGlyphs">bashkirkotel.ru</text><text transform="translate(360.8,139.9) rotate(-18.6)" textLength="29" lengthAdjust="spacingAndGlyphs">bashkirkotel.ru</text><text transform="translate(375.0,156.3) rotate(-18.6)" textLength="29" lengthAdjust="spacingAndGlyphs">bashkirkotel.ru</text><text transform="translate(389.1,172.6) rotate(-18.6)" textLength="29" lengthAdjust="spacingAndGlyphs">bashkirkotel.ru</text><text transform="translate(403.3,189.0) rotate(-18.6)" textLength="29" lengthAdjust="spacingAndGlyphs">bashkirkotel.ru</text><text transform="translate(417.5,205.3) rotate(-18.6)" textLength="29" lengthAdjust="spacingAndGlyphs">bashkirkotel.ru</text><text transform="translate(431.6,221.7) rotate(-18.6)" textLength="29" lengthAdjust="spacingAndGlyphs">bashkirkotel.ru</text><text transform="translate(445.8,238.0) rotate(-18.6)" textLength="29" lengthAdjust="spacingAndGlyphs">bashkirkotel.ru</text><text transform="translate(460.0,254.4) rotate(-18.6)" textLength="29" lengthAdjust="spacingAndGlyphs">bashkirkotel.ru</text><text transform="translate(474.1,270.8) rotate(-18.6)" textLength="29" lengthAdjust="spacingAndGlyphs">bashkirkotel.ru</text><text transform="translate(488.3,287.1) rotate(-18.6)" textLength="29" lengthAdjust="spacingAndGlyphs">bashkirkotel.ru</text><text transform="translate(502.5,303.4) rotate(-18.6)" textLength="29" lengthAdjust="spacingAndGlyphs">bashkirkotel.ru</text><text transform="translate(516.7,319.8) rotate(-18.6)" textLength="29" lengthAdjust="spacingAndGlyphs">bashkirkotel.ru</text><text transform="translate(530.8,336.1) rotate(-18.6)" textLength="29" lengthAdjust="spacingAndGlyphs">bashkirkotel.ru</text><text transform="translate(545.0,352.5) rotate(-18.6)" textLength="29" lengthAdjust="spacingAndGlyphs">bashkirkotel.ru</text><text transform="translate(559.2,368.9) rotate(-18.6)" textLength="29" lengthAdjust="spacingAndGlyphs">bashkirkotel.ru</text><text transform="translate(573.3,385.2) rotate(-18.6)" textLength="29" lengthAdjust="spacingAndGlyphs">bashkirkotel.ru</text><text transform="translate(587.5,401.6) rotate(-18.6)" textLength="29" lengthAdjust="spacingAndGlyphs">bashkirkotel.ru</text><text transform="translate(601.7,417.9) rotate(-18.6)" textLength="29" lengthAdjust="spacingAndGlyphs">bashkirkotel.ru</text><text transform="translate(615.9,434.2) rotate(-18.6)" textLength="29" lengthAdjust="spacingAndGlyphs">bashkirkotel.ru</text><text transform="translate(288.4,4.6) rotate(-18.6)" textLength="29" lengthAdjust="spacingAndGlyphs">bashkirkotel.ru</text><text transform="translate(302.6,21.0) rotate(-18.6)" textLength="29" lengthAdjust="spacingAndGlyphs">bashkirkotel.ru</text><text transform="translate(316.8,37.3) rotate(-18.6)" textLength="29" lengthAdjust="spacingAndGlyphs">bashkirkotel.ru</text><text transform="translate(330.9,53.7) rotate(-18.6)" textLength="29" lengthAdjust="spacingAndGlyphs">bashkirkotel.ru</text><text transform="translate(345.1,70.0) rotate(-18.6)" textLength="29" lengthAdjust="spacingAndGlyphs">bashkirkotel.ru</text><text transform="translate(359.3,86.4) rotate(-18.6)" textLength="29" lengthAdjust="spacingAndGlyphs">bashkirkotel.ru</text><text transform="translate(373.4,102.7) rotate(-18.6)" textLength="29" lengthAdjust="spacingAndGlyphs">bashkirkotel.ru</text><text transform="translate(387.6,119.1) rotate(-18.6)" textLength="29" lengthAdjust="spacingAndGlyphs">bashkirkotel.ru</text><text transform="translate(401.8,135.4) rotate(-18.6)" textLength="29" lengthAdjust="spacingAndGlyphs">bashkirkotel.ru</text><text transform="translate(416.0,151.8) rotate(-18.6)" textLength="29" lengthAdjust="spacingAndGlyphs">bashkirkotel.ru</text><text transform="translate(430.1,168.1) rotate(-18.6)" textLength="29" lengthAdjust="spacingAndGlyphs">bashkirkotel.ru</text><text transform="translate(444.3,184.5) rotate(-18.6)" textLength="29" lengthAdjust="spacingAndGlyphs">bashkirkotel.ru</text><text transform="translate(458.5,200.8) rotate(-18.6)" textLength="29" lengthAdjust="spacingAndGlyphs">bashkirkotel.ru</text><text transform="translate(472.6,217.2) rotate(-18.6)" textLength="29" lengthAdjust="spacingAndGlyphs">bashkirkotel.ru</text><text transform="translate(486.8,233.5) rotate(-18.6)" textLength="29" lengthAdjust="spacingAndGlyphs">bashkirkotel.ru</text><text transform="translate(501.0,249.9) rotate(-18.6)" textLength="29" lengthAdjust="spacingAndGlyphs">bashkirkotel.ru</text><text transform="translate(515.1,266.2) rotate(-18.6)" textLength="29" lengthAdjust="spacingAndGlyphs">bashkirkotel.ru</text><text transform="translate(529.3,282.6) rotate(-18.6)" textLength="29" lengthAdjust="spacingAndGlyphs">bashkirkotel.ru</text><text transform="translate(543.5,298.9) rotate(-18.6)" textLength="29" lengthAdjust="spacingAndGlyphs">bashkirkotel.ru</text><text transform="translate(557.7,315.3) rotate(-18.6)" textLength="29" lengthAdjust="spacingAndGlyphs">bashkirkotel.ru</text><text transform="translate(571.8,331.6) rotate(-18.6)" textLength="29" lengthAdjust="spacingAndGlyphs">bashkirkotel.ru</text><text transform="translate(586.0,348.0) rotate(-18.6)" textLength="29" lengthAdjust="spacingAndGlyphs">bashkirkotel.ru</text><text transform="translate(600.2,364.4) rotate(-18.6)" textLength="29" lengthAdjust="spacingAndGlyphs">bashkirkotel.ru</text><text transform="translate(614.3,380.7) rotate(-18.6)" textLength="29" lengthAdjust="spacingAndGlyphs">bashkirkotel.ru</text><text transform="translate(628.5,397.1) rotate(-18.6)" textLength="29" lengthAdjust="spacingAndGlyphs">bashkirkotel.ru</text><text transform="translate(642.7,413.4) rotate(-18.6)" textLength="29" lengthAdjust="spacingAndGlyphs">bashkirkotel.ru</text><text transform="translate(329.4,0.1) rotate(-18.6)" textLength="29" lengthAdjust="spacingAndGlyphs">bashkirkotel.ru</text><text transform="translate(343.6,16.5) rotate(-18.6)" textLength="29" lengthAdjust="spacingAndGlyphs">bashkirkotel.ru</text><text transform="translate(357.8,32.8) rotate(-18.6)" textLength="29" lengthAdjust="spacingAndGlyphs">bashkirkotel.ru</text><text transform="translate(371.9,49.2) rotate(-18.6)" textLength="29" lengthAdjust="spacingAndGlyphs">bashkirkotel.ru</text><text transform="translate(386.1,65.5) rotate(-18.6)" textLength="29" lengthAdjust="spacingAndGlyphs">bashkirkotel.ru</text><text transform="translate(400.3,81.9) rotate(-18.6)" textLength="29" lengthAdjust="spacingAndGlyphs">bashkirkotel.ru</text><text transform="translate(414.4,98.2) rotate(-18.6)" textLength="29" lengthAdjust="spacingAndGlyphs">bashkirkotel.ru</text><text transform="translate(428.6,114.6) rotate(-18.6)" textLength="29" lengthAdjust="spacingAndGlyphs">bashkirkotel.ru</text><text transform="translate(442.8,130.9) rotate(-18.6)" textLength="29" lengthAdjust="spacingAndGlyphs">bashkirkotel.ru</text><text transform="translate(457.0,147.3) rotate(-18.6)" textLength="29" lengthAdjust="spacingAndGlyphs">bashkirkotel.ru</text><text transform="translate(471.1,163.6) rotate(-18.6)" textLength="29" lengthAdjust="spacingAndGlyphs">bashkirkotel.ru</text><text transform="translate(485.3,180.0) rotate(-18.6)" textLength="29" lengthAdjust="spacingAndGlyphs">bashkirkotel.ru</text><text transform="translate(499.5,196.3) rotate(-18.6)" textLength="29" lengthAdjust="spacingAndGlyphs">bashkirkotel.ru</text><text transform="translate(513.6,212.7) rotate(-18.6)" textLength="29" lengthAdjust="spacingAndGlyphs">bashkirkotel.ru</text><text transform="translate(527.8,229.0) rotate(-18.6)" textLength="29" lengthAdjust="spacingAndGlyphs">bashkirkotel.ru</text><text transform="translate(542.0,245.4) rotate(-18.6)" textLength="29" lengthAdjust="spacingAndGlyphs">bashkirkotel.ru</text><text transform="translate(556.1,261.8) rotate(-18.6)" textLength="29" lengthAdjust="spacingAndGlyphs">bashkirkotel.ru</text><text transform="translate(570.3,278.1) rotate(-18.6)" textLength="29" lengthAdjust="spacingAndGlyphs">bashkirkotel.ru</text><text transform="translate(584.5,294.4) rotate(-18.6)" textLength="29" lengthAdjust="spacingAndGlyphs">bashkirkotel.ru</text><text transform="translate(598.7,310.8) rotate(-18.6)" textLength="29" lengthAdjust="spacingAndGlyphs">bashkirkotel.ru</text><text transform="translate(612.8,327.1) rotate(-18.6)" textLength="29" lengthAdjust="spacingAndGlyphs">bashkirkotel.ru</text><text transform="translate(627.0,343.5) rotate(-18.6)" textLength="29" lengthAdjust="spacingAndGlyphs">bashkirkotel.ru</text><text transform="translate(641.2,359.9) rotate(-18.6)" textLength="29" lengthAdjust="spacingAndGlyphs">bashkirkotel.ru</text><text transform="translate(370.4,-4.4) rotate(-18.6)" textLength="29" lengthAdjust="spacingAndGlyphs">bashkirkotel.ru</text><text transform="translate(384.6,12.0) rotate(-18.6)" textLength="29" lengthAdjust="spacingAndGlyphs">bashkirkotel.ru</text><text transform="translate(398.8,28.3) rotate(-18.6)" textLength="29" lengthAdjust="spacingAndGlyphs">bashkirkotel.ru</text><text transform="translate(412.9,44.7) rotate(-18.6)" textLength="29" lengthAdjust="spacingAndGlyphs">bashkirkotel.ru</text><text transform="translate(427.1,61.0) rotate(-18.6)" textLength="29" lengthAdjust="spacingAndGlyphs">bashkirkotel.ru</text><text transform="translate(441.3,77.4) rotate(-18.6)" textLength="29" lengthAdjust="spacingAndGlyphs">bashkirkotel.ru</text><text transform="translate(455.4,93.7) rotate(-18.6)" textLength="29" lengthAdjust="spacingAndGlyphs">bashkirkotel.ru</text><text transform="translate(469.6,110.1) rotate(-18.6)" textLength="29" lengthAdjust="spacingAndGlyphs">bashkirkotel.ru</text><text transform="translate(483.8,126.4) rotate(-18.6)" textLength="29" lengthAdjust="spacingAndGlyphs">bashkirkotel.ru</text><text transform="translate(498.0,142.8) rotate(-18.6)" textLength="29" lengthAdjust="spacingAndGlyphs">bashkirkotel.ru</text><text transform="translate(512.1,159.1) rotate(-18.6)" textLength="29" lengthAdjust="spacingAndGlyphs">bashkirkotel.ru</text><text transform="translate(526.3,175.5) rotate(-18.6)" textLength="29" lengthAdjust="spacingAndGlyphs">bashkirkotel.ru</text><text transform="translate(540.5,191.8) rotate(-18.6)" textLength="29" lengthAdjust="spacingAndGlyphs">bashkirkotel.ru</text><text transform="translate(554.6,208.2) rotate(-18.6)" textLength="29" lengthAdjust="spacingAndGlyphs">bashkirkotel.ru</text><text transform="translate(568.8,224.5) rotate(-18.6)" textLength="29" lengthAdjust="spacingAndGlyphs">bashkirkotel.ru</text><text transform="translate(583.0,240.9) rotate(-18.6)" textLength="29" lengthAdjust="spacingAndGlyphs">bashkirkotel.ru</text><text transform="translate(597.1,257.2) rotate(-18.6)" textLength="29" lengthAdjust="spacingAndGlyphs">bashkirkotel.ru</text><text transform="translate(611.3,273.6) rotate(-18.6)" textLength="29" lengthAdjust="spacingAndGlyphs">bashkirkotel.ru</text><text transform="translate(625.5,289.9) rotate(-18.6)" textLength="29" lengthAdjust="spacingAndGlyphs">bashkirkotel.ru</text><text transform="translate(639.7,306.3) rotate(-18.6)" textLength="29" lengthAdjust="spacingAndGlyphs">bashkirkotel.ru</text><text transform="translate(425.6,7.5) rotate(-18.6)" textLength="29" lengthAdjust="spacingAndGlyphs">bashkirkotel.ru</text><text transform="translate(439.8,23.8) rotate(-18.6)" textLength="29" lengthAdjust="spacingAndGlyphs">bashkirkotel.ru</text><text transform="translate(453.9,40.2) rotate(-18.6)" textLength="29" lengthAdjust="spacingAndGlyphs">bashkirkotel.ru</text><text transform="translate(468.1,56.5) rotate(-18.6)" textLength="29" lengthAdjust="spacingAndGlyphs">bashkirkotel.ru</text><text transform="translate(482.3,72.9) rotate(-18.6)" textLength="29" lengthAdjust="spacingAndGlyphs">bashkirkotel.ru</text><text transform="translate(496.4,89.2) rotate(-18.6)" textLength="29" lengthAdjust="spacingAndGlyphs">bashkirkotel.ru</text><text transform="translate(510.6,105.6) rotate(-18.6)" textLength="29" lengthAdjust="spacingAndGlyphs">bashkirkotel.ru</text><text transform="translate(524.8,121.9) rotate(-18.6)" textLength="29" lengthAdjust="spacingAndGlyphs">bashkirkotel.ru</text><text transform="translate(539.0,138.3) rotate(-18.6)" textLength="29" lengthAdjust="spacingAndGlyphs">bashkirkotel.ru</text><text transform="translate(553.1,154.6) rotate(-18.6)" textLength="29" lengthAdjust="spacingAndGlyphs">bashkirkotel.ru</text><text transform="translate(567.3,171.0) rotate(-18.6)" textLength="29" lengthAdjust="spacingAndGlyphs">bashkirkotel.ru</text><text transform="translate(581.5,187.3) rotate(-18.6)" textLength="29" lengthAdjust="spacingAndGlyphs">bashkirkotel.ru</text><text transform="translate(595.6,203.7) rotate(-18.6)" textLength="29" lengthAdjust="spacingAndGlyphs">bashkirkotel.ru</text><text transform="translate(609.8,220.0) rotate(-18.6)" textLength="29" lengthAdjust="spacingAndGlyphs">bashkirkotel.ru</text><text transform="translate(624.0,236.4) rotate(-18.6)" textLength="29" lengthAdjust="spacingAndGlyphs">bashkirkotel.ru</text><text transform="translate(638.1,252.8) rotate(-18.6)" textLength="29" lengthAdjust="spacingAndGlyphs">bashkirkotel.ru</text><text transform="translate(466.6,3.0) rotate(-18.6)" textLength="29" lengthAdjust="spacingAndGlyphs">bashkirkotel.ru</text><text transform="translate(480.8,19.3) rotate(-18.6)" textLength="29" lengthAdjust="spacingAndGlyphs">bashkirkotel.ru</text><text transform="translate(494.9,35.7) rotate(-18.6)" textLength="29" lengthAdjust="spacingAndGlyphs">bashkirkotel.ru</text><text transform="translate(509.1,52.0) rotate(-18.6)" textLength="29" lengthAdjust="spacingAndGlyphs">bashkirkotel.ru</text><text transform="translate(523.3,68.4) rotate(-18.6)" textLength="29" lengthAdjust="spacingAndGlyphs">bashkirkotel.ru</text><text transform="translate(537.5,84.7) rotate(-18.6)" textLength="29" lengthAdjust="spacingAndGlyphs">bashkirkotel.ru</text><text transform="translate(551.6,101.1) rotate(-18.6)" textLength="29" lengthAdjust="spacingAndGlyphs">bashkirkotel.ru</text><text transform="translate(565.8,117.4) rotate(-18.6)" textLength="29" lengthAdjust="spacingAndGlyphs">bashkirkotel.ru</text><text transform="translate(580.0,133.8) rotate(-18.6)" textLength="29" lengthAdjust="spacingAndGlyphs">bashkirkotel.ru</text><text transform="translate(594.1,150.1) rotate(-18.6)" textLength="29" lengthAdjust="spacingAndGlyphs">bashkirkotel.ru</text><text transform="translate(608.3,166.5) rotate(-18.6)" textLength="29" lengthAdjust="spacingAndGlyphs">bashkirkotel.ru</text><text transform="translate(622.5,182.8) rotate(-18.6)" textLength="29" lengthAdjust="spacingAndGlyphs">bashkirkotel.ru</text><text transform="translate(636.6,199.2) rotate(-18.6)" textLength="29" lengthAdjust="spacingAndGlyphs">bashkirkotel.ru</text><text transform="translate(507.6,-1.5) rotate(-18.6)" textLength="29" lengthAdjust="spacingAndGlyphs">bashkirkotel.ru</text><text transform="translate(521.8,14.8) rotate(-18.6)" textLength="29" lengthAdjust="spacingAndGlyphs">bashkirkotel.ru</text><text transform="translate(535.9,31.2) rotate(-18.6)" textLength="29" lengthAdjust="spacingAndGlyphs">bashkirkotel.ru</text><text transform="translate(550.1,47.5) rotate(-18.6)" textLength="29" lengthAdjust="spacingAndGlyphs">bashkirkotel.ru</text><text transform="translate(564.3,63.9) rotate(-18.6)" textLength="29" lengthAdjust="spacingAndGlyphs">bashkirkotel.ru</text><text transform="translate(578.5,80.2) rotate(-18.6)" textLength="29" lengthAdjust="spacingAndGlyphs">bashkirkotel.ru</text><text transform="translate(592.6,96.6) rotate(-18.6)" textLength="29" lengthAdjust="spacingAndGlyphs">bashkirkotel.ru</text><text transform="translate(606.8,112.9) rotate(-18.6)" textLength="29" lengthAdjust="spacingAndGlyphs">bashkirkotel.ru</text><text transform="translate(621.0,129.3) rotate(-18.6)" textLength="29" lengthAdjust="spacingAndGlyphs">bashkirkotel.ru</text><text transform="translate(635.1,145.6) rotate(-18.6)" textLength="29" lengthAdjust="spacingAndGlyphs">bashkirkotel.ru</text><text transform="translate(649.3,162.0) rotate(-18.6)" textLength="29" lengthAdjust="spacingAndGlyphs">bashkirkotel.ru</text><text transform="translate(562.8,10.3) rotate(-18.6)" textLength="29" lengthAdjust="spacingAndGlyphs">bashkirkotel.ru</text><text transform="translate(576.9,26.7) rotate(-18.6)" textLength="29" lengthAdjust="spacingAndGlyphs">bashkirkotel.ru</text><text transform="translate(591.1,43.0) rotate(-18.6)" textLength="29" lengthAdjust="spacingAndGlyphs">bashkirkotel.ru</text><text transform="translate(605.3,59.4) rotate(-18.6)" textLength="29" lengthAdjust="spacingAndGlyphs">bashkirkotel.ru</text><text transform="translate(619.5,75.7) rotate(-18.6)" textLength="29" lengthAdjust="spacingAndGlyphs">bashkirkotel.ru</text><text transform="translate(633.6,92.1) rotate(-18.6)" textLength="29" lengthAdjust="spacingAndGlyphs">bashkirkotel.ru</text><text transform="translate(647.8,108.4) rotate(-18.6)" textLength="29" lengthAdjust="spacingAndGlyphs">bashkirkotel.ru</text><text transform="translate(603.8,5.8) rotate(-18.6)" textLength="29" lengthAdjust="spacingAndGlyphs">bashkirkotel.ru</text><text transform="translate(617.9,22.2) rotate(-18.6)" textLength="29" lengthAdjust="spacingAndGlyphs">bashkirkotel.ru</text><text transform="translate(632.1,38.5) rotate(-18.6)" textLength="29" lengthAdjust="spacingAndGlyphs">bashkirkotel.ru</text><text transform="translate(646.3,54.9) rotate(-18.6)" textLength="29" lengthAdjust="spacingAndGlyphs">bashkirkotel.ru</text><text transform="translate(644.8,1.3) rotate(-18.6)" textLength="29" lengthAdjust="spacingAndGlyphs">bashkirkotel.ru</text></g>
<g fill="none" stroke="#8a8a8a" stroke-width="0.73">
<path d="M102,63V96M114.8,197V370M128.7,245V356M288,245V370"/>
<path d="M208.4,63V126"/>
</g>
<g fill="none" stroke="#8a8a8a" stroke-width="0.73" stroke-dasharray="14,2.5,2,2.5">
<path d="M208.4,126V345M112,245.4H304M122.5,257.7H294"/>
<path d="M394.6,120V340M320,257.7H478"/>
</g>
<g fill="none" stroke="#1a1a1a" stroke-width="1.23">
<path d="M100,334.3H307M314,334.3H606"/>
</g>
<path d="M100.0,341.3L105.2,334.6 M104.5,341.3L109.7,334.6 M108.9,341.3L114.1,334.6 M113.4,341.3L118.6,334.6 M117.8,341.3L123.0,334.6 M122.3,341.3L127.5,334.6 M126.7,341.3L131.9,334.6 M131.2,341.3L136.3,334.6 M135.6,341.3L140.8,334.6 M140.0,341.3L145.2,334.6 M144.5,341.3L149.7,334.6 M148.9,341.3L154.1,334.6 M153.4,341.3L158.6,334.6 M157.8,341.3L163.0,334.6 M162.3,341.3L167.5,334.6 M166.7,341.3L171.9,334.6 M171.2,341.3L176.4,334.6 M175.6,341.3L180.8,334.6 M180.1,341.3L185.3,334.6 M184.5,341.3L189.7,334.6 M189.0,341.3L194.2,334.6 M193.4,341.3L198.6,334.6 M197.9,341.3L203.1,334.6 M202.3,341.3L207.5,334.6 M206.8,341.3L212.0,334.6 M211.2,341.3L216.4,334.6 M215.7,341.3L220.9,334.6 M220.1,341.3L225.3,334.6 M224.6,341.3L229.8,334.6 M229.0,341.3L234.2,334.6 M233.5,341.3L238.7,334.6 M237.9,341.3L243.1,334.6 M242.4,341.3L247.6,334.6 M246.8,341.3L252.0,334.6 M251.3,341.3L256.5,334.6 M255.7,341.3L260.9,334.6 M260.2,341.3L265.4,334.6 M264.6,341.3L269.8,334.6 M269.1,341.3L274.3,334.6 M273.5,341.3L278.7,334.6 M278.0,341.3L283.2,334.6 M282.4,341.3L287.6,334.6 M286.9,341.3L292.1,334.6 M291.3,341.3L296.5,334.6 M295.8,341.3L301.0,334.6 M300.2,341.3L305.4,334.6 M314.0,341.3L319.2,334.6 M318.4,341.3L323.6,334.6 M322.9,341.3L328.1,334.6 M327.3,341.3L332.5,334.6 M331.8,341.3L337.0,334.6 M336.2,341.3L341.4,334.6 M340.7,341.3L345.9,334.6 M345.1,341.3L350.3,334.6 M349.6,341.3L354.8,334.6 M354.0,341.3L359.2,334.6 M358.5,341.3L363.7,334.6 M362.9,341.3L368.1,334.6 M367.4,341.3L372.6,334.6 M371.8,341.3L377.0,334.6 M376.3,341.3L381.5,334.6 M380.7,341.3L385.9,334.6 M385.2,341.3L390.4,334.6 M389.6,341.3L394.8,334.6 M394.1,341.3L399.3,334.6 M398.5,341.3L403.7,334.6 M403.0,341.3L408.2,334.6 M407.4,341.3L412.6,334.6 M411.9,341.3L417.1,334.6 M416.3,341.3L421.5,334.6 M420.8,341.3L426.0,334.6 M425.2,341.3L430.4,334.6 M429.7,341.3L434.9,334.6 M434.1,341.3L439.3,334.6 M438.6,341.3L443.8,334.6 M443.0,341.3L448.2,334.6 M447.5,341.3L452.7,334.6 M451.9,341.3L457.1,334.6 M456.4,341.3L461.6,334.6 M460.8,341.3L466.0,334.6 M465.3,341.3L470.5,334.6 M469.7,341.3L474.9,334.6 M474.2,341.3L479.4,334.6 M478.6,341.3L483.8,334.6 M483.1,341.3L488.3,334.6 M487.5,341.3L492.7,334.6 M492.0,341.3L497.2,334.6 M496.4,341.3L501.6,334.6 M500.9,341.3L506.1,334.6 M505.3,341.3L510.5,334.6 M509.8,341.3L515.0,334.6 M514.2,341.3L519.4,334.6 M518.7,341.3L523.9,334.6 M523.1,341.3L528.3,334.6 M527.6,341.3L532.8,334.6 M532.0,341.3L537.2,334.6 M536.5,341.3L541.7,334.6 M540.9,341.3L546.1,334.6 M545.4,341.3L550.6,334.6 M549.8,341.3L555.0,334.6 M554.3,341.3L559.5,334.6 M558.8,341.3L564.0,334.6 M563.2,341.3L568.4,334.6 M567.7,341.3L572.9,334.6 M572.1,341.3L577.3,334.6 M576.6,341.3L581.8,334.6 M581.0,341.3L586.2,334.6 M585.5,341.3L590.7,334.6 M589.9,341.3L595.1,334.6 M594.4,341.3L599.6,334.6 M598.8,341.3L604.0,334.6" stroke="#1a1a1a" stroke-width="1.23" fill="none"/>
<g fill="none" stroke="#444" stroke-width="0.73">
<path d="M102,67H208.4M128.7,352.5H288M114.8,367.6H288"/>
</g>
<path d="M102,67L109,65.9V68.1Z" fill="#1a1a1a"/>
<path d="M208.4,67L201.4,65.9V68.1Z" fill="#1a1a1a"/>
<path d="M128.7,352.5L135.7,351.4V353.6Z" fill="#1a1a1a"/>
<path d="M288,352.5L281,351.4V353.6Z" fill="#1a1a1a"/>
<path d="M114.8,367.6L121.8,366.5V368.70000000000005Z" fill="#1a1a1a"/>
<path d="M288,367.6L281,366.5V368.70000000000005Z" fill="#1a1a1a"/>
<g font-size="6" fill="#222">
<text x="150.8" y="64.6" font-size="6.4" textLength="8.4" lengthAdjust="spacingAndGlyphs">1100</text>
<text x="202.5" y="350.1" font-size="5.8" textLength="11.2" lengthAdjust="spacingAndGlyphs">Ø1646</text>
<text x="196.6" y="365.6" font-size="6.2" textLength="9" lengthAdjust="spacingAndGlyphs">1800</text>
</g>
<g fill="none" stroke="#1a1a1a" stroke-width="1.23">
<path d="M139.4,285.4L129.3,329.2H287.6L277,283M180.6,320.3V329.2M236.4,320.3V329.2"/>
</g>
<g fill="none" stroke="#8a8a8a" stroke-width="0.63"><path d="M137,329.2V334M280,329.2V334"/></g>
<g transform="translate(141.5,302.8) rotate(41)" fill="#fff" stroke="#1a1a1a" stroke-width="1.01"><rect x="-9.5" y="-1.8" width="19" height="3.6" rx="1"/><path d="M-8,0H8" stroke-width="0.63"/><circle cx="1.5" cy="-3.6" r="1.3"/><circle cx="6.5" cy="-3.6" r="1.3"/><path d="M-6,-1.8V-5M-2,-1.8V-5" fill="none"/></g>
<circle cx="208.3" cy="245.5" r="79" fill="none" stroke="#1a1a1a" stroke-width="1.68"/>
<ellipse cx="208.4" cy="258.4" rx="61.8" ry="60.7" fill="none" stroke="#1a1a1a" stroke-width="1.46"/>
<ellipse cx="208.4" cy="258.2" rx="58.4" ry="56.5" fill="none" stroke="#8a8a8a" stroke-width="0.84" stroke-dasharray="2.5,1.5"/>
<circle cx="208.3" cy="198.8" r="2" fill="#1a1a1a"/>
<circle cx="166.5" cy="215.3" r="2" fill="#1a1a1a"/>
<circle cx="250" cy="215.3" r="2" fill="#1a1a1a"/>
<circle cx="149" cy="257.8" r="2" fill="#1a1a1a"/>
<circle cx="268" cy="258" r="2" fill="#1a1a1a"/>
<circle cx="166.5" cy="299" r="2" fill="#1a1a1a"/>
<circle cx="250" cy="299" r="2" fill="#1a1a1a"/>
<circle cx="208.3" cy="316.7" r="2" fill="#1a1a1a"/>
<g fill="none" stroke="#1a1a1a" stroke-width="1.68"><path d="M191.4,205V193.3A3.7,3.7 0 0 1 198.6,193.3V205M217.3,205V193.3A3.7,3.7 0 0 1 224.7,193.3V205"/></g>
<circle cx="176.7" cy="226.5" r="3.3" fill="#666" stroke="#1a1a1a" stroke-width="0.84"/>
<rect x="181.4" y="231.5" width="52.9" height="52.5" fill="none" stroke="#1a1a1a" stroke-width="1.34"/>
<rect x="183.6" y="233.6" width="48.5" height="48.3" fill="none" stroke="#8a8a8a" stroke-width="0.63" stroke-dasharray="2,1.5"/>
<rect x="190.7" y="240.8" width="34.3" height="37.2" fill="none" stroke="#1a1a1a" stroke-width="1.12"/>
<g fill="#fff" stroke="#1a1a1a" stroke-width="1.12"><path d="M192,276 V256.5 Q192,252 197,251.5 Q208,249.5 219.5,251.5 Q224.9,252 224.9,256.5 V276 Q224.9,279 221,279 H196 Q192,279 192,276 Z"/><rect x="191.2" y="252.5" width="9.3" height="25.3" rx="4.6"/><rect x="215.8" y="252.5" width="9.3" height="25.3" rx="4.6"/><rect x="203.1" y="232.4" width="9.7" height="17.6"/><rect x="205" y="242" width="6" height="6"/><rect x="203.2" y="264" width="10" height="2.6"/></g>
<g fill="#1a1a1a"><rect x="203.1" y="232.4" width="9.7" height="3"/><path d="M199.5,251.2L203.1,248.3H212.8L216.4,251.2Z"/></g>
<g fill="none" stroke="#1a1a1a" stroke-width="0.84"><path d="M203.1,239.7H212.8"/><circle cx="208" cy="245" r="1.7"/></g>
<circle cx="208.1" cy="261.8" r="1" fill="#1a1a1a"/>
<g fill="#fff" stroke="#1a1a1a" stroke-width="1.12"><rect x="177" y="244.8" width="5" height="5.2"/><rect x="177" y="265.3" width="5" height="5.2"/></g>
<g fill="#1a1a1a"><rect x="179.5" y="246" width="2.5" height="3"/><rect x="179.5" y="266.5" width="2.5" height="3"/></g>
<g fill="#fff" stroke="#1a1a1a" stroke-width="1.23"><rect x="232" y="233" width="9" height="3" rx="1.5"/><rect x="232" y="239.5" width="9" height="3" rx="1.5"/><rect x="232" y="272.5" width="9" height="3" rx="1.5"/><rect x="232" y="279" width="9" height="3" rx="1.5"/></g>
<path d="M235.3,232V244M238.7,232V244M235.3,271.5V283.5M238.7,271.5V283.5" stroke="#1a1a1a" stroke-width="1.68" fill="none"/>
<path d="M187.2,169.5 A21.2,21.2 0 0 1 229.6,169.5" fill="none" stroke="#1a1a1a" stroke-width="1.57"/>
<g fill="none" stroke="#1a1a1a" stroke-width="1.12"><rect x="203.5" y="125.7" width="14.9" height="13.3"/><path d="M199.5,139.2H220.5M201,139.2V146.5M205.5,139.2V147M211.5,139.2V147M216.5,139.2V146.5M208.4,134V148"/><rect x="218.6" y="134.5" width="3" height="4.5" fill="#fff"/></g>
<g fill="none" stroke="#1a1a1a" stroke-width="1.34"><path d="M118,101.4H186.4A28.8,23.6 0 0 1 215.2,125"/><path d="M118,116.5H186.4"/><path d="M186.4,101.4V116.5"/></g>
<g fill="none" stroke="#8a8a8a" stroke-width="0.63"><path d="M186.4,116.5A17,12 0 0 1 203.5,125.7"/></g>
<g fill="none" stroke="#8a8a8a" stroke-width="0.63" stroke-dasharray="8,2,2,2"><path d="M118,109H186.4A22.8,16 0 0 1 209,125"/></g>
<g stroke="#1a1a1a" stroke-width="1.12"><rect x="100.8" y="101" width="17.6" height="17" rx="3.5" fill="#fff"/><rect x="106.6" y="96" width="6" height="26.5" fill="#fff"/><rect x="104.0" y="95.8" width="2.2" height="27" fill="#555" stroke-width="0.84"/><rect x="113.0" y="95.8" width="2.2" height="27" fill="#555" stroke-width="0.84"/><rect x="108.0" y="103.5" width="3.2" height="6" fill="#fff" stroke-width="0.84"/><rect x="108.0" y="111.5" width="3.2" height="6" fill="#fff" stroke-width="0.84"/><rect x="107.8" y="91" width="3.6" height="5" fill="#222"/><circle cx="106.9" cy="85.6" r="6" fill="#fff" stroke-width="1.46"/><rect x="103.4" y="81.1" width="10" height="9" fill="#fff" stroke-width="1.12"/><path d="M103.4,84.1H113.4M103.4,87.1H113.4M108.4,81.1V90.1" fill="none" stroke-width="0.73"/></g>
<g stroke="#1a1a1a"><rect x="182.5" y="121" width="8" height="2.6" fill="#fff" stroke-width="0.84"/><rect x="203" y="124" width="8" height="2.6" fill="#fff" stroke-width="0.84"/><path d="M198.4,130V161.5" stroke-width="2.24" stroke-linecap="round" fill="none"/><rect x="196" y="134.5" width="4.8" height="5.5" fill="#444" stroke-width="0.63"/><circle cx="197.2" cy="123.3" r="7" fill="#fff" stroke-width="1.46"/><path d="M193.6,127.3L201,119.3" stroke-width="1.46" fill="none"/></g>
<rect x="170.6" y="116.5" width="12.2" height="18.5" fill="none" stroke="#8a8a8a" stroke-width="0.63" stroke-dasharray="2,1.5"/>
<g fill="none" stroke="#1a1a1a" stroke-width="1.57"><circle cx="172.8" cy="150" r="4.5"/><path d="M177.7,135.5V152Q177.7,160 187,162"/><path d="M176,135H179.5"/></g>
<g stroke="#1a1a1a" stroke-width="1.12"><path d="M135.6,159.3H187V163.9H135.6L132,162.6V160.6Z" fill="#fff"/><rect x="127" y="171.4" width="49" height="2.6" fill="#fff"/><rect x="127" y="195.6" width="18.5" height="2.6" fill="#fff"/><rect x="122" y="204.3" width="19" height="2.5" rx="1.2" fill="#fff"/><rect x="122" y="159.5" width="10" height="4" fill="#fff"/><rect x="114.5" y="163.7" width="8.7" height="35.3" fill="#2a2a2a" stroke-width="1.34"/><rect x="117.6" y="166" width="2.6" height="31" fill="#fff" stroke="none"/><rect x="114.3" y="158" width="8.2" height="6.5" rx="2.5" fill="#fff" stroke-width="1.57"/><rect x="114.3" y="196.5" width="8.4" height="6" fill="#fff" stroke-width="1.34"/><circle cx="118.6" cy="206" r="3.5" fill="#333"/><rect x="125" y="167.3" width="5.2" height="10.7" rx="2" fill="#333"/><rect x="125" y="191" width="5.2" height="7.5" rx="2" fill="#333"/><rect x="122.8" y="170.5" width="2.2" height="4.5" fill="#fff"/><rect x="122.8" y="193" width="2.2" height="4" fill="#fff"/></g>
<path d="M118.9,166V197" stroke="#1a1a1a" stroke-width="0.73"/>
<path d="M115.3,167.0H116.6M121.2,167.0H122.5M115.3,169.4H116.6M121.2,169.4H122.5M115.3,171.8H116.6M121.2,171.8H122.5M115.3,174.2H116.6M121.2,174.2H122.5M115.3,176.6H116.6M121.2,176.6H122.5M115.3,179.0H116.6M121.2,179.0H122.5M115.3,181.4H116.6M121.2,181.4H122.5M115.3,183.8H116.6M121.2,183.8H122.5M115.3,186.2H116.6M121.2,186.2H122.5M115.3,188.6H116.6M121.2,188.6H122.5M115.3,191.0H116.6M121.2,191.0H122.5M115.3,193.4H116.6M121.2,193.4H122.5M115.3,195.8H116.6M121.2,195.8H122.5" stroke="#fff" stroke-width="0.84"/>
<circle cx="124.5" cy="158.3" r="1.1" fill="#1a1a1a"/>
<path d="M127.6,168V177.5M127.6,191.5V198" stroke="#fff" stroke-width="0.63"/>
<g fill="none" stroke="#1a1a1a" stroke-width="1.23">
<path d="M326,285.2L314.7,329.2H473.5L462,285M367.2,319.5V329.2M422,319.5V329.2"/>
</g>
<g fill="none" stroke="#8a8a8a" stroke-width="0.63"><path d="M323,329.2V334M466,329.2V334"/></g>
<circle cx="394.5" cy="245.5" r="79.1" fill="none" stroke="#1a1a1a" stroke-width="1.68"/>
<ellipse cx="394.5" cy="256.3" rx="58" ry="56.8" fill="none" stroke="#1a1a1a" stroke-width="1.46"/>
<circle cx="394.5" cy="256.5" r="54" fill="none" stroke="#8a8a8a" stroke-width="0.84" stroke-dasharray="2.5,1.5"/>
<circle cx="394.6" cy="202.3" r="2.3" fill="#1a1a1a"/>
<circle cx="353.8" cy="220.3" r="1.9" fill="#1a1a1a"/>
<circle cx="435.7" cy="220.3" r="1.9" fill="#1a1a1a"/>
<circle cx="338.8" cy="262.1" r="1.9" fill="#1a1a1a"/>
<circle cx="449.7" cy="253" r="1.9" fill="#1a1a1a"/>
<circle cx="353.4" cy="295" r="1.9" fill="#1a1a1a"/>
<circle cx="435.6" cy="295" r="1.9" fill="#1a1a1a"/>
<path d="M366.2,228.5V212.4Q394.5,193.6 422.7,212.4V228.5Z" fill="none" stroke="#1a1a1a" stroke-width="1.46"/>
<path d="M366.2,212.4L422.7,228.5M422.7,212.4L366.2,228.5" fill="none" stroke="#1a1a1a" stroke-width="1.01"/>
<path d="M369,226.5V215Q394.5,199 420,215V226.5Z" fill="none" stroke="#8a8a8a" stroke-width="0.63" stroke-dasharray="2,1.5"/>
<circle cx="366.2" cy="212.4" r="1.4" fill="#1a1a1a"/>
<circle cx="422.7" cy="212.4" r="1.4" fill="#1a1a1a"/>
<circle cx="366.2" cy="228.5" r="1.4" fill="#1a1a1a"/>
<circle cx="422.7" cy="228.5" r="1.4" fill="#1a1a1a"/>
<circle cx="385.5" cy="206.3" r="1.4" fill="#1a1a1a"/>
<circle cx="404" cy="206.3" r="1.4" fill="#1a1a1a"/>
<circle cx="385.5" cy="228.5" r="1.4" fill="#1a1a1a"/>
<circle cx="404" cy="228.5" r="1.4" fill="#1a1a1a"/>
<circle cx="394.2" cy="258" r="21.7" fill="none" stroke="#1a1a1a" stroke-width="1.68"/>
<path d="M372.5,257.7H416" fill="none" stroke="#1a1a1a" stroke-width="2.02"/>
<path d="M416,256.3H421.2V242.3H425" fill="none" stroke="#1a1a1a" stroke-width="1.46"/>
<rect x="415.5" y="256" width="6" height="3" fill="#fff" stroke="#1a1a1a" stroke-width="0.84"/>
<rect x="419.5" y="242.5" width="4" height="10" fill="#fff" stroke="#1a1a1a" stroke-width="0.84"/>
<path d="M376.5,265.3L413.4,249" stroke="#1a1a1a" stroke-width="0.73" fill="none"/>
<path d="M376.5,265.3L382.5,261.6L383.3,263.3Z M413.4,249L407.4,252.7L406.6,251Z" fill="#1a1a1a"/>
<text transform="translate(390,257) rotate(-24)" font-size="6" fill="#222" textLength="12" lengthAdjust="spacingAndGlyphs">Ø450</text>
<g stroke="#1a1a1a"><circle cx="359.3" cy="248.6" r="5.8" fill="#e2e2e2" stroke-width="1.46"/><circle cx="359.3" cy="248.6" r="3.2" fill="none" stroke-width="0.73"/><path d="M357.1,246.4L361.5,250.79999999999998M361.5,246.4L357.1,250.79999999999998" stroke-width="0.63"/></g>
<g stroke="#1a1a1a"><circle cx="430.3" cy="244.1" r="5.8" fill="#e2e2e2" stroke-width="1.46"/><circle cx="430.3" cy="244.1" r="3.2" fill="none" stroke-width="0.73"/><path d="M428.1,241.9L432.5,246.29999999999998M432.5,241.9L428.1,246.29999999999998" stroke-width="0.63"/></g>
<g stroke="#1a1a1a"><circle cx="358.9" cy="282.4" r="5.8" fill="#e2e2e2" stroke-width="1.46"/><circle cx="358.9" cy="282.4" r="3.2" fill="none" stroke-width="0.73"/><path d="M356.7,280.2L361.09999999999997,284.59999999999997M361.09999999999997,280.2L356.7,284.59999999999997" stroke-width="0.63"/></g>
<g stroke="#1a1a1a"><circle cx="430.3" cy="276.3" r="5.8" fill="#e2e2e2" stroke-width="1.46"/><circle cx="430.3" cy="276.3" r="3.2" fill="none" stroke-width="0.73"/><path d="M428.1,274.1L432.5,278.5M432.5,274.1L428.1,278.5" stroke-width="0.63"/></g>
<path d="M365.6,283.5H423.1V299Q394.5,314.5 365.6,299Z" fill="none" stroke="#1a1a1a" stroke-width="1.46"/>
<path d="M368,285.5H420.8V298Q394.5,311 368,298Z" fill="none" stroke="#8a8a8a" stroke-width="0.63" stroke-dasharray="2,1.5"/>
<g fill="#fff" stroke="#1a1a1a" stroke-width="1.12"><rect x="375.5" y="285.5" width="3.6" height="14" rx="1.5"/><rect x="410.3" y="285.5" width="3.6" height="14" rx="1.5"/></g>
<circle cx="365.6" cy="283.5" r="1.3" fill="#1a1a1a"/>
<circle cx="423.1" cy="283.5" r="1.3" fill="#1a1a1a"/>
<circle cx="385" cy="283.5" r="1.3" fill="#1a1a1a"/>
<circle cx="404" cy="283.5" r="1.3" fill="#1a1a1a"/>
<circle cx="372" cy="302" r="1.3" fill="#1a1a1a"/>
<circle cx="417" cy="302" r="1.3" fill="#1a1a1a"/>
<circle cx="385" cy="306" r="1.3" fill="#1a1a1a"/>
<circle cx="404" cy="306" r="1.3" fill="#1a1a1a"/>
<circle cx="394.4" cy="311.6" r="2.8" fill="#777" stroke="#1a1a1a" stroke-width="1.23"/>
<g fill="#fff" stroke="#1a1a1a" stroke-width="1.12"><rect x="378" y="319.3" width="10.5" height="3" rx="1.5"/><rect x="400.3" y="319.3" width="10.5" height="3" rx="1.5"/><path d="M373.5,311V323M415.5,311V323" stroke-width="1.79"/><rect x="371.3" y="316.5" width="4.4" height="3.5"/><rect x="413.3" y="316.5" width="4.4" height="3.5"/></g>
<circle cx="373.5" cy="311.5" r="1.7" fill="#1a1a1a"/><circle cx="415.5" cy="311.5" r="1.7" fill="#1a1a1a"/>
<rect x="367.6" y="166.5" width="2.4" height="8" fill="#1a1a1a"/>
<path d="M372.8,169.5A21.4,21.4 0 0 1 415.6,169.5" fill="none" stroke="#1a1a1a" stroke-width="1.57"/>
<g fill="none" stroke="#1a1a1a" stroke-width="1.12"><rect x="380.2" y="136.3" width="28" height="2.6" fill="#fff"/><rect x="380.2" y="139.6" width="28" height="2.6" fill="#fff"/><path d="M384.5,125.7V148M404.5,125.7V148M388.5,142V148.5M400.5,142V148.5M384.5,130.4H404.5"/></g>
<circle cx="388.6" cy="134.6" r="1.3" fill="#1a1a1a"/><circle cx="388.6" cy="143.6" r="1.3" fill="#1a1a1a"/>
<circle cx="399.8" cy="134.6" r="1.3" fill="#1a1a1a"/><circle cx="399.8" cy="143.6" r="1.3" fill="#1a1a1a"/>
<g fill="none" stroke="#1a1a1a" stroke-width="1.34"><path d="M386.8,130.4A28.8,28.4 0 0 1 415.6,102H484.2"/><path d="M403.5,130.4A12.1,14 0 0 1 415.6,116.4H484.2"/><path d="M415.6,102V116.4"/></g>
<g fill="none" stroke="#8a8a8a" stroke-width="0.63" stroke-dasharray="8,2,2,2"><path d="M395,130.4A20.6,21.2 0 0 1 415.6,109.2H484"/></g>
<g stroke="#1a1a1a" stroke-width="1.12"><rect x="484" y="101" width="17.6" height="17" rx="3.5" fill="#fff"/><rect x="489.8" y="96" width="6" height="26.5" fill="#fff"/><rect x="487.2" y="95.8" width="2.2" height="27" fill="#555" stroke-width="0.84"/><rect x="496.2" y="95.8" width="2.2" height="27" fill="#555" stroke-width="0.84"/><rect x="491.2" y="103.5" width="3.2" height="6" fill="#fff" stroke-width="0.84"/><rect x="491.2" y="111.5" width="3.2" height="6" fill="#fff" stroke-width="0.84"/><rect x="491" y="91" width="3.6" height="5" fill="#222"/><circle cx="495.2" cy="86.5" r="6" fill="#fff" stroke-width="1.46"/><rect x="488.7" y="82.0" width="10" height="9" fill="#fff" stroke-width="1.12"/><path d="M488.7,85.0H498.7M488.7,88.0H498.7M493.7,82.0V91.0" fill="none" stroke-width="0.73"/></g>
<g stroke="#1a1a1a" fill="#fff" stroke-width="1.12"><path d="M404.5,131 Q404,121.5 412,121.8 H420.5" fill="none" stroke-width="2.02"/><rect x="407.5" y="120" width="13" height="3.2" rx="1.6"/></g>
<rect x="418.8" y="117.3" width="12.7" height="17.7" fill="none" stroke="#8a8a8a" stroke-width="0.63" stroke-dasharray="2,1.5"/>
<g fill="none" stroke="#1a1a1a" stroke-width="1.57"><circle cx="428.8" cy="150.3" r="4.5"/><path d="M424,136V152Q424,158 420,160"/><path d="M422,136H426"/></g>
<g stroke="#1a1a1a" stroke-width="1.12"><path d="M415.7,159.3H469.8L473,160.6V162.6L469.8,164H415.7Z" fill="#fff"/><rect x="473" y="159.6" width="8" height="4" fill="#fff"/><rect x="424" y="171.3" width="48.5" height="2.9" fill="#fff"/><rect x="456" y="195.6" width="16.5" height="2.8" fill="#fff"/><rect x="462" y="204.8" width="19" height="2.5" rx="1.2" fill="#fff"/><rect x="476.5" y="171" width="3.5" height="4" fill="#fff"/><rect x="476.5" y="193.5" width="3.5" height="4" fill="#fff"/><rect x="479.9" y="164.5" width="8.5" height="36" fill="#fff" stroke-width="1.34"/><rect x="481" y="158.8" width="6.2" height="5.7" rx="2" fill="#fff" stroke-width="1.46"/><circle cx="483.8" cy="206.3" r="3.5" fill="#333"/><rect x="472" y="167.3" width="4.6" height="10.7" rx="2" fill="#333"/><rect x="472" y="191" width="4.6" height="8.8" rx="2" fill="#333"/></g>
<path d="M482.3,170V196M486,170V196M479.9,170H488.4M479.9,196H488.4" stroke="#1a1a1a" stroke-width="0.73" fill="none"/>
<circle cx="478" cy="158.2" r="1.1" fill="#1a1a1a"/>
<g stroke="#1a1a1a" stroke-width="1.23" fill="#fff"><path d="M467,256.2H557.6V259.7H467A1.75,1.75 0 0 1 467,256.2Z"/></g>
<g fill="none" stroke="#1a1a1a" stroke-width="1.23"><path d="M513.6,259.8V318Q513.6,327.2 522,327.2H600.5"/><path d="M518.2,259.8V318Q518.2,323.5 524,323.5H600.5"/><path d="M491.4,290V303Q491.4,310.5 498,310.5H513.6M494.4,290V302Q494.4,307.5 499,307.5H513.6"/></g>
<g stroke="#1a1a1a" stroke-width="1.01" fill="#fff"><rect x="511.5" y="266" width="9" height="7" fill="#ccc"/><path d="M520.5,268.5H526M525.5,265V272" fill="none" stroke-width="1.34"/><rect x="511.5" y="298.5" width="9" height="5" fill="#ccc"/><rect x="518.2" y="280" width="10" height="3.5"/><path d="M528,278.5V286L533,283.5V279Z" fill="#999"/><path d="M531,278.5V274.5M528,274.5H534" fill="none" stroke-width="1.23"/><circle cx="491.4" cy="283.4" r="7" stroke-width="1.46"/><path d="M488,288L495.5,278.5" fill="none" stroke-width="1.12"/></g>
<g stroke="#1a1a1a" stroke-width="1.12" fill="#fff"><path d="M564.2,298.1V280A3.3,3.3 0 0 1 567.5,276.7H580.4A3.3,3.3 0 0 1 583.7,280V298.1Z"/><rect x="583.7" y="283" width="3.3" height="9"/><rect x="567" y="298.1" width="15" height="11.9"/><rect x="566" y="310" width="16.8" height="23"/><rect x="560" y="319.5" width="4" height="13"/><rect x="584.8" y="319.5" width="4" height="13"/><path d="M568,278V298M571.5,277V298M575,277V298M578.5,277V298M581.5,278V298" fill="none" stroke-width="0.73"/><path d="M569.5,298V310M579.5,298V310M569.5,310V333M579.5,310V333M566,317H582.8M574.3,312V333" fill="none" stroke-width="0.73"/></g>
<path d="M462,288 Q470,284 473,292 Q476,300 471,306 Q474,316 466,319 Q462,317 458,322 Q452,318 449,314 Q444,309 448,304 Q447,300 452,298" fill="none" stroke="#8a8a8a" stroke-width="0.73"/>
<path d="M463.3,290.5L473.7,329" stroke="#1a1a1a" stroke-width="1.23" fill="none"/>
<g transform="translate(460.3,302) rotate(-32)"><rect x="-9" y="-2.4" width="18" height="4.8" rx="2.4" fill="{K}"/><path d="M-7,-0.7H7M-7,0.9H7" stroke="#fff" stroke-width="0.63"/><circle cx="-6" cy="-3.2" r="1.6" fill="{K}"/><circle cx="1" cy="-3.2" r="1.6" fill="{K}"/><path d="M-4,-3V-9M4,-3V-9" stroke="{K}" stroke-width="1.01"/></g>
<g fill="none" stroke="#1a1a1a" stroke-width="0.63">
<path d="M282.5,189.2H329.3L426,244.5M329.3,189.2L426.5,273.5M329.3,189.2L355.5,243.5M329.3,189.2L357.5,276.8"/>
<path d="M314.2,140H361L368.5,168"/>
<path d="M533.5,234.7H488L405,215.4"/>
<path d="M611.3,246.6H551.7L536.5,256.2"/>
<path d="M338,349.5H351.7L366.8,331"/>
<path d="M457.3,347.7H430.9L424.5,334"/>
<path d="M299,377.2H358.3L386.4,324"/>
<path d="M583,102.4H612M572,109.2H594M586.5,103.8L590,109.2L593.5,103.8"/>
<path d="M517.3,109.2H532M552,185.4H538"/>
</g>
<path d="M539,109.2L532,108.10000000000001V110.3Z" fill="#1a1a1a"/>
<path d="M530.7,185.4L539,184.2V186.6Z" fill="#1a1a1a"/>
<g font-size="7.4" fill="#000">
<text x="282.7" y="187.6" textLength="41.9" lengthAdjust="spacingAndGlyphs">Лючки для обдувки</text>
<text x="318.7" y="138.1" textLength="33" lengthAdjust="spacingAndGlyphs">Отбор пара на</text>
<text x="314.2" y="146.2" textLength="42.5" lengthAdjust="spacingAndGlyphs">собственные нужды</text>
<text x="493" y="233.1" textLength="38.5" lengthAdjust="spacingAndGlyphs">Клапан взрывной</text>
<text x="559.7" y="244.6" textLength="41.3" lengthAdjust="spacingAndGlyphs">Линия подключения</text>
<text x="561.4" y="252.7" textLength="35.6" lengthAdjust="spacingAndGlyphs">второго насоса</text>
<text x="338.5" y="348.2" textLength="9.3" lengthAdjust="spacingAndGlyphs">Слив</text>
<text x="432.2" y="346" textLength="22.4" lengthAdjust="spacingAndGlyphs">Продувка</text>
<text x="300.3" y="375.9" textLength="56.7" lengthAdjust="spacingAndGlyphs">Штуцер для слива шлама</text>
<text x="317.4" y="383.3" textLength="26.4" lengthAdjust="spacingAndGlyphs">при обдувки</text>
</g>
<text x="592" y="101" font-size="6.5" textLength="19.7" lengthAdjust="spacingAndGlyphs">+2,350</text>
<text x="511.5" y="102.6" font-size="11" textLength="52" lengthAdjust="spacingAndGlyphs">Выход пара</text>
<text transform="translate(180.8,51.9) scale(0.72,1)" font-size="8.8">А</text><text transform="translate(186.8,53.2) scale(0.8,1)" font-size="4.6">(2)</text>
<text transform="translate(461.8,49) scale(0.7,1)" font-size="10.6">Б</text><text transform="translate(467.3,50.3) scale(0.8,1)" font-size="4.6">(2)</text>
<text transform="translate(547.2,179.8) scale(0.7,1)" font-size="10.3">В</text><text transform="translate(553,181.2) scale(0.8,1)" font-size="4.6">(2)</text>
<!--DRAWEND-->
</svg>
</body></html>
